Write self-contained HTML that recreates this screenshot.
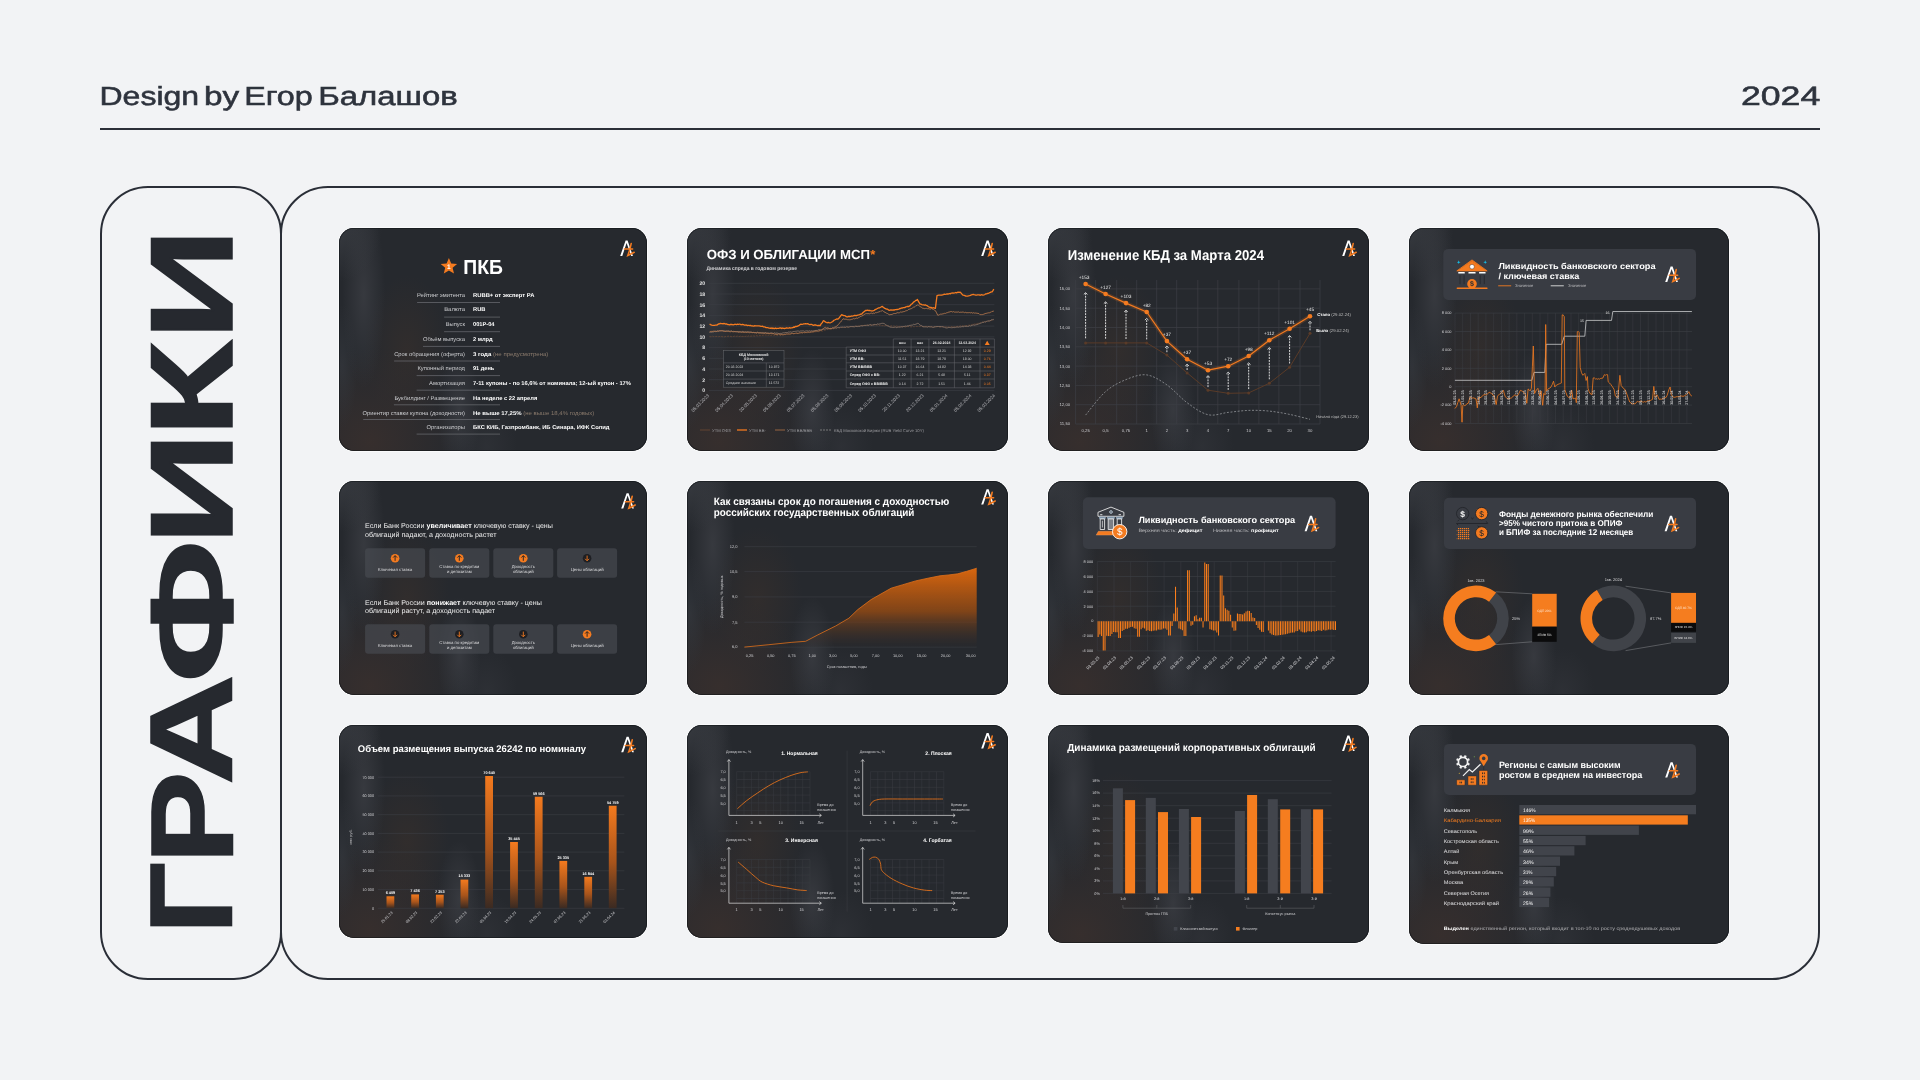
<!DOCTYPE html>
<html lang="ru">
<head>
<meta charset="utf-8">
<title>Design by Егор Балашов — Графики</title>
<style>
*{margin:0;padding:0;box-sizing:border-box}
html,body{width:1920px;height:1080px;overflow:hidden;background:#f2f3f5}
body{position:relative;font-family:"Liberation Sans",Arial,sans-serif;color:#2a2e37}
.abs{position:absolute}
#hdr{left:99.4px;top:83.3px;font-size:26.3px;line-height:1;font-weight:normal;-webkit-text-stroke:0.6px #2e333d;white-space:nowrap;transform-origin:0 0;transform:scaleX(1.2036);color:#2e333d}
#year{right:100px;top:82.6px;font-size:26.6px;line-height:1;font-weight:normal;-webkit-text-stroke:0.6px #2e333d;white-space:nowrap;transform-origin:100% 0;transform:scaleX(1.35);color:#2e333d}
#rule{left:100px;top:127.5px;width:1720px;height:2px;background:#2b2f38}
.box{position:absolute;border:2px solid #2a2e37;border-radius:48px;top:186px;height:794px}
#lbox{left:100px;width:182px}
#rbox{left:280px;width:1540px}
#vt{position:absolute;left:132.84px;top:927px;width:700px;height:120px;font-family:"Liberation Sans",sans-serif;font-weight:bold;-webkit-text-stroke:1.5px #26292f;font-size:117.60px;line-height:1;white-space:nowrap;color:#26292f;transform-origin:0 0;transform:rotate(-90deg)}
#vt span{position:absolute;top:0;transform-origin:0 0}
.card{position:absolute;border-radius:15px;overflow:hidden;background:#26292e;box-shadow:0 0 0 1px rgba(255,255,255,.6)}
.card:after{content:'';position:absolute;inset:0;border-radius:15px;box-shadow:inset 0 0 0 0.8px rgba(10,12,16,.55)}
.card .tex{position:absolute;inset:0;background:
 radial-gradient(ellipse 14% 24% at 0% 0%,rgba(64,67,73,.65),rgba(64,67,73,0)),
 radial-gradient(ellipse 7% 42% at 8% 30%,rgba(66,68,74,.6),rgba(66,68,74,0)),
 radial-gradient(ellipse 5% 28% at 1% 62%,rgba(54,58,64,.6),rgba(54,58,64,0)),
 radial-gradient(ellipse 7% 28% at 39% 82%,rgba(62,64,70,.7),rgba(62,64,70,0)),
 radial-gradient(ellipse 10% 20% at 48% 98%,rgba(56,58,64,.4),rgba(56,58,64,0)),
 radial-gradient(ellipse 30% 42% at 10% 96%,rgba(56,47,45,.9),rgba(56,47,45,0)),
 radial-gradient(ellipse 14% 34% at 22% 55%,rgba(60,49,43,.5),rgba(60,49,43,0)),
 #26292e}
#ov{position:absolute;left:0;top:0;font-family:"Liberation Sans",Arial,sans-serif;will-change:transform}
#hdr,#year,#vt{will-change:transform}
</style>
</head>
<body>
<svg id="hd" width="1920" height="60" viewBox="0 60 1920 60" text-rendering="geometricPrecision" style="position:absolute;left:0;top:60px;will-change:transform;font-family:'Liberation Sans',Arial,sans-serif" fill="#2e333d" stroke="#2e333d" stroke-width="0.55">
<text y="105.2" font-size="26.3"><tspan x="99.5" textLength="99.6" lengthAdjust="spacingAndGlyphs">Design</tspan> <tspan x="204.0" textLength="35.2" lengthAdjust="spacingAndGlyphs">by</tspan> <tspan x="244.2" textLength="68.6" lengthAdjust="spacingAndGlyphs">Егор</tspan> <tspan x="318.2" textLength="139.6" lengthAdjust="spacingAndGlyphs">Балашов</tspan></text>
<text y="105.2" font-size="26.6"><tspan x="1740.9" textLength="79.4" lengthAdjust="spacingAndGlyphs">2024</tspan></text>
</svg>
<div id="rule" class="abs"></div>
<div id="lbox" class="box"></div>
<div id="rbox" class="box"></div>
<div id="vt"><span style="left:-7.5px;transform:scaleX(1.080)">Г</span><span style="left:63.4px;transform:scaleX(1.181)">Р</span><span style="left:142.2px;transform:scaleX(1.305)">А</span><span style="left:243.6px;transform:scaleX(1.430)">Ф</span><span style="left:382.3px;transform:scaleX(1.335)">И</span><span style="left:490.4px;transform:scaleX(1.342)">К</span><span style="left:586.7px;transform:scaleX(1.322)">И</span></div>
<div class="card" style="left:339px;top:228px;width:308px;height:223px"><div class="tex"></div></div>
<div class="card" style="left:687px;top:228px;width:321px;height:223px"><div class="tex"></div></div>
<div class="card" style="left:1048px;top:228px;width:321px;height:223px"><div class="tex"></div></div>
<div class="card" style="left:1409px;top:228px;width:320px;height:223px"><div class="tex"></div></div>
<div class="card" style="left:339px;top:481px;width:308px;height:214px"><div class="tex"></div></div>
<div class="card" style="left:687px;top:481px;width:321px;height:214px"><div class="tex"></div></div>
<div class="card" style="left:1048px;top:481px;width:321px;height:214px"><div class="tex"></div></div>
<div class="card" style="left:1409px;top:481px;width:320px;height:214px"><div class="tex"></div></div>
<div class="card" style="left:339px;top:725px;width:308px;height:213px"><div class="tex"></div></div>
<div class="card" style="left:687px;top:725px;width:321px;height:213px"><div class="tex"></div></div>
<div class="card" style="left:1048px;top:725px;width:321px;height:218px"><div class="tex"></div></div>
<div class="card" style="left:1409px;top:725px;width:320px;height:219px"><div class="tex"></div></div>
<svg id="ov" text-rendering="geometricPrecision" width="1920" height="1080" viewBox="0 0 1920 1080">
<path d="M448.9 258.0 L451.2 263.4 L457.1 263.9 L452.6 267.8 L454.0 273.6 L448.9 270.5 L443.8 273.6 L445.2 267.8 L440.7 263.9 L446.6 263.4 Z" fill="#f47b20"/>
<text x="448.9" y="269.0" font-size="6.50" fill="#ffffff" font-weight="bold" text-anchor="middle">1</text>
<text x="463.3" y="274.2" font-size="20.30" fill="#ffffff" font-weight="bold" textLength="39.6" lengthAdjust="spacingAndGlyphs">ПКБ</text>
<text x="465.0" y="296.7" font-size="5.60" fill="#c9cacd" text-anchor="end" textLength="48.1" lengthAdjust="spacingAndGlyphs">Рейтинг эмитента</text>
<text x="473.0" y="296.7" font-size="5.60" textLength="61.4" lengthAdjust="spacingAndGlyphs"><tspan fill="#ffffff" font-weight="bold">RUBB+ от эксперт РА</tspan></text>
<line x1="417.1" y1="302.5" x2="500.0" y2="302.5" stroke="#6d6f74" stroke-width="0.7"/>
<text x="465.0" y="311.4" font-size="5.60" fill="#c9cacd" text-anchor="end" textLength="20.8" lengthAdjust="spacingAndGlyphs">Валюта</text>
<text x="473.0" y="311.4" font-size="5.60" textLength="12.4" lengthAdjust="spacingAndGlyphs"><tspan fill="#ffffff" font-weight="bold">RUB</tspan></text>
<line x1="444.1" y1="317.1" x2="500.0" y2="317.1" stroke="#6d6f74" stroke-width="0.7"/>
<text x="465.0" y="326.1" font-size="5.60" fill="#c9cacd" text-anchor="end" textLength="19.3" lengthAdjust="spacingAndGlyphs">Выпуск</text>
<text x="473.0" y="326.1" font-size="5.60" textLength="21.5" lengthAdjust="spacingAndGlyphs"><tspan fill="#ffffff" font-weight="bold">001P-04</tspan></text>
<line x1="444.1" y1="331.7" x2="500.0" y2="331.7" stroke="#6d6f74" stroke-width="0.7"/>
<text x="465.0" y="340.9" font-size="5.60" fill="#c9cacd" text-anchor="end" textLength="42.1" lengthAdjust="spacingAndGlyphs">Объём выпуска</text>
<text x="473.0" y="340.9" font-size="5.60" textLength="19.6" lengthAdjust="spacingAndGlyphs"><tspan fill="#ffffff" font-weight="bold">2 млрд</tspan></text>
<line x1="423.0" y1="346.4" x2="500.0" y2="346.4" stroke="#6d6f74" stroke-width="0.7"/>
<text x="465.0" y="355.6" font-size="5.60" fill="#c9cacd" text-anchor="end" textLength="70.8" lengthAdjust="spacingAndGlyphs">Срок обращения (оферта)</text>
<text x="473.0" y="355.6" font-size="5.60" textLength="75.4" lengthAdjust="spacingAndGlyphs"><tspan fill="#ffffff" font-weight="bold">3 года </tspan><tspan fill="#8a7a6c">(не предусмотрена)</tspan></text>
<line x1="394.1" y1="361.0" x2="500.0" y2="361.0" stroke="#6d6f74" stroke-width="0.7"/>
<text x="465.0" y="370.3" font-size="5.60" fill="#c9cacd" text-anchor="end" textLength="47.6" lengthAdjust="spacingAndGlyphs">Купонный период</text>
<text x="473.0" y="370.3" font-size="5.60" textLength="21.3" lengthAdjust="spacingAndGlyphs"><tspan fill="#ffffff" font-weight="bold">91 день</tspan></text>
<line x1="416.6" y1="375.6" x2="500.0" y2="375.6" stroke="#6d6f74" stroke-width="0.7"/>
<text x="465.0" y="385.0" font-size="5.60" fill="#c9cacd" text-anchor="end" textLength="36.0" lengthAdjust="spacingAndGlyphs">Амортизация</text>
<text x="473.0" y="385.0" font-size="5.60" textLength="158.0" lengthAdjust="spacingAndGlyphs"><tspan fill="#ffffff" font-weight="bold">7-11 купоны - по 16,6% от номинала; 12-ый купон - 17%</tspan></text>
<line x1="416.6" y1="390.2" x2="500.0" y2="390.2" stroke="#6d6f74" stroke-width="0.7"/>
<text x="465.0" y="399.7" font-size="5.60" fill="#c9cacd" text-anchor="end" textLength="70.6" lengthAdjust="spacingAndGlyphs">Букбилдинг / Размещение</text>
<text x="473.0" y="399.7" font-size="5.60" textLength="64.3" lengthAdjust="spacingAndGlyphs"><tspan fill="#ffffff" font-weight="bold">На неделе с 22 апреля</tspan></text>
<line x1="393.9" y1="404.8" x2="500.0" y2="404.8" stroke="#6d6f74" stroke-width="0.7"/>
<text x="465.0" y="414.5" font-size="5.60" fill="#c9cacd" text-anchor="end" textLength="102.4" lengthAdjust="spacingAndGlyphs">Ориентир ставки купона (доходности)</text>
<text x="473.0" y="414.5" font-size="5.60" textLength="121.3" lengthAdjust="spacingAndGlyphs"><tspan fill="#ffffff" font-weight="bold">Не выше 17,25% </tspan><tspan fill="#8a7a6c">(не выше 18,4% годовых)</tspan></text>
<line x1="363.2" y1="419.5" x2="500.0" y2="419.5" stroke="#6d6f74" stroke-width="0.7"/>
<text x="465.0" y="429.2" font-size="5.60" fill="#c9cacd" text-anchor="end" textLength="38.4" lengthAdjust="spacingAndGlyphs">Организаторы</text>
<text x="473.0" y="429.2" font-size="5.60" textLength="136.5" lengthAdjust="spacingAndGlyphs"><tspan fill="#ffffff" font-weight="bold">БКС КИБ, Газпромбанк, ИБ Синара, ИФК Солид</tspan></text>
<line x1="416.6" y1="434.1" x2="500.0" y2="434.1" stroke="#6d6f74" stroke-width="0.7"/>
<g transform="translate(620.0 240.3) scale(1.000)"><path d="M0.2 15.6 L5.6 0.2 L7.6 0.2 L12.9 15.6 L11.2 15.6 L6.6 2.6 L2.3 15.6Z" fill="#fff"/><path d="M11.2 3.2 C10.6 7 9.2 11.5 7.8 15.2 C9.8 14.4 12 13.2 14.2 12" fill="none" stroke="#f47b20" stroke-width="1.6" stroke-linecap="round"/><path d="M4.4 8.8 L12.6 8.8" stroke="#f47b20" stroke-width="1.5" stroke-linecap="round"/></g>
<text x="706.7" y="259.4" font-size="13.20" fill="#ffffff" font-weight="bold" textLength="163.3" lengthAdjust="spacingAndGlyphs">ОФЗ И ОБЛИГАЦИИ МСП</text>
<text x="870.3" y="259.0" font-size="13.20" fill="#f47b20" font-weight="bold">*</text>
<text x="706.5" y="269.8" font-size="5.20" fill="#cfcfd2" font-weight="bold" textLength="90.5" lengthAdjust="spacingAndGlyphs">Динамика спреда в годовом резерве</text>
<line x1="708.9" y1="283.3" x2="994.4" y2="283.3" stroke="#3b3e44" stroke-width="0.7"/>
<text x="705.2" y="285.1" font-size="5.20" fill="#e6e6e6" font-weight="bold" text-anchor="end">20</text>
<line x1="708.9" y1="294.0" x2="994.4" y2="294.0" stroke="#3b3e44" stroke-width="0.7"/>
<text x="705.2" y="295.8" font-size="5.20" fill="#e6e6e6" font-weight="bold" text-anchor="end">18</text>
<line x1="708.9" y1="304.7" x2="994.4" y2="304.7" stroke="#3b3e44" stroke-width="0.7"/>
<text x="705.2" y="306.5" font-size="5.20" fill="#e6e6e6" font-weight="bold" text-anchor="end">16</text>
<line x1="708.9" y1="315.4" x2="994.4" y2="315.4" stroke="#3b3e44" stroke-width="0.7"/>
<text x="705.2" y="317.2" font-size="5.20" fill="#e6e6e6" font-weight="bold" text-anchor="end">14</text>
<line x1="708.9" y1="326.1" x2="994.4" y2="326.1" stroke="#3b3e44" stroke-width="0.7"/>
<text x="705.2" y="327.9" font-size="5.20" fill="#e6e6e6" font-weight="bold" text-anchor="end">12</text>
<line x1="708.9" y1="336.9" x2="994.4" y2="336.9" stroke="#3b3e44" stroke-width="0.7"/>
<text x="705.2" y="338.7" font-size="5.20" fill="#e6e6e6" font-weight="bold" text-anchor="end">10</text>
<line x1="708.9" y1="347.6" x2="994.4" y2="347.6" stroke="#3b3e44" stroke-width="0.7"/>
<text x="705.2" y="349.4" font-size="5.20" fill="#e6e6e6" font-weight="bold" text-anchor="end">8</text>
<line x1="708.9" y1="358.3" x2="994.4" y2="358.3" stroke="#3b3e44" stroke-width="0.7"/>
<text x="705.2" y="360.1" font-size="5.20" fill="#e6e6e6" font-weight="bold" text-anchor="end">6</text>
<line x1="708.9" y1="369.0" x2="994.4" y2="369.0" stroke="#3b3e44" stroke-width="0.7"/>
<text x="705.2" y="370.8" font-size="5.20" fill="#e6e6e6" font-weight="bold" text-anchor="end">4</text>
<line x1="708.9" y1="379.7" x2="994.4" y2="379.7" stroke="#3b3e44" stroke-width="0.7"/>
<text x="705.2" y="381.5" font-size="5.20" fill="#e6e6e6" font-weight="bold" text-anchor="end">2</text>
<line x1="708.9" y1="390.4" x2="994.4" y2="390.4" stroke="#3b3e44" stroke-width="0.7"/>
<text x="705.2" y="392.2" font-size="5.20" fill="#e6e6e6" font-weight="bold" text-anchor="end">0</text>
<path d="M709.6 336.4 L710.4 336.7 L711.3 336.7 L712.1 336.2 L712.9 336.2 L713.7 336.7 L714.6 336.7 L715.4 336.6 L716.2 336.4 L717.1 336.6 L717.9 336.7 L718.7 336.7 L719.5 336.5 L720.4 336.7 L721.2 336.6 L722.0 336.6 L722.8 336.8 L723.6 336.9 L724.4 336.9 L725.2 336.6 L726.0 336.5 L726.8 336.4 L727.6 336.3 L728.4 336.2 L729.3 336.5 L730.1 336.4 L730.9 336.4 L731.7 336.7 L732.5 336.5 L733.3 336.5 L734.1 336.2 L734.9 336.1 L735.7 336.4 L736.5 336.3 L737.3 336.1 L738.1 336.3 L739.0 336.6 L739.8 336.4 L740.6 336.1 L741.4 336.5 L742.2 336.4 L743.0 336.4 L743.8 336.5 L744.6 336.4 L745.4 336.4 L746.2 336.1 L747.0 336.4 L747.8 336.4 L748.7 335.9 L749.5 336.2 L750.3 336.2 L751.1 336.1 L751.9 336.0 L752.7 336.0 L753.5 335.9 L754.3 336.1 L755.1 335.8 L755.9 336.0 L756.7 335.6 L757.6 335.9 L758.4 335.9 L759.2 335.6 L760.0 335.6 L760.8 335.7 L761.6 335.6 L762.4 335.4 L763.2 335.2 L764.0 335.2 L764.8 335.4 L765.6 335.0 L766.4 335.1 L767.3 335.4 L768.1 335.0 L768.9 335.4 L769.7 335.0 L770.5 335.4 L771.3 335.3 L772.1 335.1 L772.9 335.2 L773.7 335.2 L774.5 335.2 L775.3 335.0 L776.1 335.0 L777.0 335.1 L777.8 335.4 L778.6 335.2 L779.4 334.9 L780.2 335.3 L781.0 335.3 L781.8 335.1 L782.6 335.3 L783.4 334.8 L784.2 335.0 L785.0 334.5 L785.8 334.7 L786.7 334.4 L787.5 334.3 L788.3 334.6 L789.1 334.0 L789.9 334.2 L790.7 334.3 L791.5 333.8 L792.3 333.7 L793.1 334.0 L793.9 333.6 L794.7 333.7 L795.5 333.2 L796.4 333.3 L797.2 333.3 L798.0 333.1 L798.8 333.3 L799.6 332.9 L800.4 333.4 L801.2 332.8 L802.0 333.2 L802.8 332.7 L803.6 332.8 L804.4 333.1 L805.3 332.7 L806.1 332.7 L806.9 332.9 L807.7 332.7 L808.5 332.5 L809.3 333.0 L810.1 332.4 L810.9 332.3 L811.7 332.5 L812.5 332.5 L813.4 332.5 L814.2 332.4 L815.0 331.9 L815.9 331.9 L816.7 331.6 L817.6 331.7 L818.4 331.7 L819.2 331.6 L820.1 331.5 L820.9 331.3 L821.7 331.0 L822.6 331.0 L823.5 330.7 L824.4 330.3 L825.3 330.0 L826.1 330.0 L827.0 329.6 L827.9 329.5 L828.7 329.1 L829.5 329.2 L830.3 329.4 L831.2 328.8 L832.0 329.0 L832.8 328.8 L833.6 328.8 L834.4 328.4 L835.3 328.8 L836.1 328.3 L836.9 328.4 L837.7 328.2 L838.5 327.8 L839.4 328.1 L840.2 327.9 L841.0 327.6 L841.8 327.5 L842.6 327.4 L843.4 327.4 L844.2 327.2 L845.0 327.5 L845.8 327.3 L846.6 327.5 L847.4 327.4 L848.2 327.4 L849.0 326.8 L849.8 326.8 L850.6 326.6 L851.4 326.8 L852.2 326.7 L853.0 326.7 L853.8 326.6 L854.6 326.2 L855.4 326.2 L856.2 326.2 L857.0 325.8 L857.8 325.7 L858.6 325.9 L859.4 325.8 L860.2 325.6 L861.0 325.9 L861.8 325.5 L862.7 325.4 L863.5 325.4 L864.3 325.4 L865.1 325.3 L865.9 325.4 L866.7 325.3 L867.5 325.2 L868.3 325.3 L869.1 325.0 L869.9 325.4 L870.7 325.4 L871.5 325.2 L872.4 324.9 L873.2 324.9 L874.0 324.9 L874.8 325.0 L875.6 324.7 L876.4 325.0 L877.2 325.1 L878.0 324.9 L878.8 324.9 L879.6 325.4 L880.4 325.2 L881.2 325.4 L882.1 325.7 L882.9 325.5 L883.7 325.4 L884.5 325.9 L885.3 325.6 L886.1 325.4 L886.9 325.9 L887.7 325.6 L888.5 325.8 L889.3 325.9 L890.1 326.2 L890.9 326.1 L891.8 325.8 L892.6 326.1 L893.4 326.1 L894.2 326.2 L895.0 326.1 L895.8 326.4 L896.6 326.1 L897.4 326.3 L898.2 326.4 L899.0 326.8 L899.8 326.3 L900.7 326.8 L901.5 326.5 L902.3 326.7 L903.1 326.7 L903.9 326.8 L904.7 326.8 L905.5 327.0 L906.3 326.7 L907.1 326.5 L907.9 326.5 L908.7 326.5 L909.5 326.9 L910.4 326.8 L911.2 326.9 L912.0 326.7 L912.8 326.3 L913.6 326.7 L914.4 326.7 L915.2 326.7 L916.0 326.5 L916.8 326.4 L917.6 326.4 L918.4 326.6 L919.2 326.3 L920.1 326.4 L920.9 326.4 L921.7 326.4 L922.5 326.7 L923.3 326.7 L924.1 326.8 L924.9 326.7 L925.7 326.4 L926.5 326.4 L927.3 326.6 L928.1 326.5 L928.9 326.6 L929.8 326.8 L930.6 327.0 L931.4 326.8 L932.2 326.9 L933.0 326.5 L933.8 326.7 L934.6 327.1 L935.4 326.8 L936.2 326.6 L937.0 326.8 L937.8 326.6 L938.6 326.6 L939.5 327.1 L940.3 327.1 L941.1 326.9 L941.9 326.6 L942.7 326.7 L943.5 326.7 L944.3 327.0 L945.1 327.0 L945.9 326.8 L946.7 326.9 L947.5 326.6 L948.4 326.9 L949.2 327.1 L950.0 327.0 L950.8 326.8 L951.6 326.5 L952.4 326.7 L953.2 326.8 L954.0 326.4 L954.8 326.8 L955.6 326.4 L956.4 326.5 L957.2 326.3 L958.1 326.6 L958.9 326.4 L959.7 326.2 L960.5 325.9 L961.3 326.0 L962.1 325.7 L962.9 325.9 L963.7 326.0 L964.5 325.6 L965.3 325.7 L966.1 325.6 L966.9 325.4 L967.8 325.2 L968.6 325.3 L969.4 325.2 L970.2 324.9 L971.0 324.6 L971.8 324.8 L972.6 324.2 L973.4 324.3 L974.2 324.1 L975.0 324.0 L975.8 323.9 L976.6 323.4 L977.5 323.4 L978.3 323.1 L979.1 323.1 L979.9 323.2 L980.7 322.8 L981.5 322.5 L982.3 322.1 L983.1 322.2 L984.0 322.1 L984.8 322.0 L985.6 321.7 L986.4 321.6 L987.2 321.0 L988.1 321.3 L988.9 321.0 L989.7 320.8 L990.5 320.8 L991.3 320.6 L992.1 319.9 L993.0 320.2 L993.8 319.8" fill="none" stroke="#6e4a33" stroke-width="0.8" stroke-linejoin="round" stroke-dasharray="2 1"/>
<path d="M709.6 332.5 L710.4 332.2 L711.3 332.3 L712.1 332.0 L712.9 332.0 L713.7 331.9 L714.6 331.3 L715.4 331.1 L716.2 331.5 L717.1 331.0 L717.9 330.8 L718.7 331.2 L719.5 330.7 L720.4 330.5 L721.2 330.8 L722.0 330.6 L722.8 330.8 L723.6 330.5 L724.4 330.9 L725.2 331.1 L726.0 330.9 L726.8 331.1 L727.6 331.1 L728.4 330.7 L729.3 331.2 L730.1 331.2 L730.9 331.0 L731.7 330.9 L732.5 331.5 L733.3 331.3 L734.1 331.5 L734.9 331.7 L735.7 331.5 L736.5 331.6 L737.3 331.8 L738.1 331.5 L739.0 331.8 L739.8 331.6 L740.6 332.0 L741.4 331.9 L742.2 331.4 L743.0 331.5 L743.8 331.6 L744.6 332.1 L745.4 331.8 L746.2 332.0 L747.0 331.8 L747.8 331.9 L748.7 331.9 L749.5 331.9 L750.3 332.1 L751.1 332.1 L751.9 332.2 L752.7 332.5 L753.5 332.3 L754.3 332.6 L755.1 332.6 L755.9 332.7 L756.7 332.5 L757.6 332.2 L758.4 332.8 L759.2 332.9 L760.0 332.9 L760.8 332.7 L761.6 332.9 L762.4 332.5 L763.2 333.0 L764.0 332.9 L764.8 332.7 L765.6 332.6 L766.4 333.0 L767.3 333.3 L768.1 333.4 L768.9 332.8 L769.7 333.3 L770.5 333.0 L771.3 332.8 L772.1 333.0 L772.9 333.3 L773.7 333.4 L774.5 332.8 L775.3 333.3 L776.1 332.9 L777.0 333.4 L777.8 333.1 L778.6 333.5 L779.4 333.6 L780.2 333.3 L781.0 333.6 L781.8 333.3 L782.6 333.0 L783.4 332.8 L784.2 333.0 L785.0 332.5 L785.8 332.5 L786.7 332.5 L787.5 332.5 L788.3 332.1 L789.1 331.9 L789.9 332.3 L790.7 331.8 L791.5 332.2 L792.3 332.0 L793.1 331.5 L793.9 331.5 L794.7 331.4 L795.5 331.3 L796.4 331.2 L797.2 331.0 L798.0 331.0 L798.8 331.1 L799.6 331.3 L800.4 331.0 L801.2 330.9 L802.0 331.1 L802.8 330.8 L803.6 330.9 L804.4 331.3 L805.3 331.0 L806.1 331.0 L806.9 330.7 L807.7 330.9 L808.5 331.1 L809.3 330.7 L810.1 331.1 L810.9 331.1 L811.7 330.7 L812.5 331.0 L813.4 330.9 L814.2 330.7 L815.0 330.7 L815.9 330.3 L816.7 330.4 L817.6 330.3 L818.4 329.7 L819.2 329.6 L820.1 329.9 L820.9 329.9 L821.7 329.5 L822.6 329.2 L823.5 329.2 L824.4 329.2 L825.3 328.9 L826.1 328.8 L827.0 328.7 L827.9 328.7 L828.7 328.5 L829.5 328.6 L830.3 328.3 L831.1 328.3 L831.9 328.5 L832.7 327.9 L833.5 328.2 L834.4 328.2 L835.2 327.8 L836.0 327.7 L836.8 328.0 L837.6 327.5 L838.4 327.4 L839.2 327.5 L840.0 327.6 L840.8 327.1 L841.6 327.2 L842.4 327.1 L843.2 327.2 L844.1 327.3 L844.9 327.0 L845.7 327.3 L846.5 326.8 L847.3 326.8 L848.1 327.0 L848.9 327.1 L849.7 326.8 L850.5 326.6 L851.3 326.5 L852.1 326.7 L853.0 326.5 L853.8 326.8 L854.6 326.8 L855.4 326.3 L856.2 326.4 L857.0 326.7 L857.8 326.5 L858.6 326.4 L859.5 326.5 L860.3 326.0 L861.2 325.8 L862.0 325.8 L862.9 326.0 L863.7 325.5 L864.6 325.4 L865.4 325.4 L866.3 325.3 L867.1 325.2 L868.0 325.1 L868.9 325.4 L869.7 324.7 L870.6 324.5 L871.4 325.1 L872.3 325.0 L873.1 325.0 L874.0 324.5 L874.8 324.4 L875.6 324.6 L876.5 324.5 L877.3 323.9 L878.2 324.2 L879.0 324.1 L879.8 323.9 L880.7 323.7 L881.5 323.4 L882.3 323.3 L883.2 323.3 L884.1 323.6 L884.9 324.0 L885.8 324.9 L886.7 325.2 L887.6 326.1 L888.5 326.0 L889.3 326.8 L890.2 327.2 L891.0 327.1 L891.9 327.3 L892.7 327.4 L893.6 327.5 L894.5 327.3 L895.3 327.0 L896.2 327.6 L897.0 327.5 L897.9 327.1 L898.7 327.1 L899.6 327.2 L900.4 327.0 L901.3 326.8 L902.1 327.1 L903.0 326.7 L903.8 326.4 L904.7 326.4 L905.6 326.1 L906.4 326.3 L907.3 325.9 L908.2 326.0 L909.1 325.5 L910.0 325.3 L910.8 325.3 L911.7 325.1 L912.6 325.0 L913.4 324.3 L914.3 324.5 L915.2 324.4 L916.0 324.0 L916.9 323.8 L917.7 323.3 L918.6 323.6 L919.5 324.6 L920.4 325.3 L921.3 325.4 L922.2 326.1 L923.1 326.8 L924.0 326.7 L924.8 326.9 L925.6 326.9 L926.5 326.9 L927.3 327.2 L928.2 326.7 L929.0 326.7 L929.8 326.8 L930.7 326.8 L931.5 326.8 L932.3 327.2 L933.2 327.4 L934.0 327.2 L934.9 326.6 L935.8 326.8 L936.6 326.6 L937.5 326.5 L938.3 326.5 L939.2 326.6 L940.0 326.4 L940.9 326.7 L941.8 326.7 L942.7 326.8 L943.5 327.1 L944.4 327.2 L945.3 327.7 L946.2 327.9 L947.0 328.0 L947.9 327.7 L948.7 327.5 L949.6 327.5 L950.4 327.6 L951.3 327.7 L952.1 327.8 L953.0 327.4 L953.8 327.5 L954.7 327.6 L955.5 327.4 L956.3 327.2 L957.1 327.1 L957.9 327.1 L958.8 327.2 L959.6 326.9 L960.4 327.0 L961.2 326.8 L962.0 326.6 L962.9 326.7 L963.7 326.7 L964.5 326.2 L965.3 326.4 L966.1 326.4 L967.0 326.2 L967.8 326.4 L968.7 326.3 L969.5 325.7 L970.3 326.0 L971.2 325.8 L972.0 325.2 L972.8 325.2 L973.7 324.9 L974.5 325.2 L975.4 324.9 L976.2 324.7 L977.1 324.6 L978.0 324.2 L978.9 323.8 L979.7 323.6 L980.6 323.2 L981.5 322.9 L982.4 322.4 L983.2 322.5 L984.1 321.9 L984.9 321.8 L985.8 322.0 L986.6 321.3 L987.5 321.1 L988.3 320.9 L989.2 321.0 L990.1 320.9 L991.0 320.0 L991.9 319.6 L992.9 319.8 L993.8 319.2" fill="none" stroke="#9a8070" stroke-width="0.75" stroke-linejoin="round"/>
<path d="M709.6 331.8 L710.4 331.5 L711.3 331.4 L712.1 331.5 L712.9 331.3 L713.7 331.2 L714.6 331.3 L715.4 331.6 L716.2 331.5 L717.1 331.4 L717.9 331.0 L718.7 331.1 L719.5 330.9 L720.4 331.0 L721.2 330.8 L722.0 330.8 L722.8 330.9 L723.6 331.5 L724.4 331.4 L725.2 331.5 L726.0 331.5 L726.8 331.1 L727.6 331.2 L728.4 331.5 L729.3 331.6 L730.1 331.7 L730.9 331.8 L731.7 331.3 L732.5 331.7 L733.3 331.8 L734.1 331.7 L734.9 331.5 L735.7 331.8 L736.5 331.8 L737.3 331.6 L738.1 332.2 L739.0 332.2 L739.8 332.0 L740.6 331.9 L741.4 332.3 L742.2 332.1 L743.0 332.4 L743.8 332.4 L744.6 332.2 L745.4 332.2 L746.2 332.4 L747.0 332.3 L747.8 332.1 L748.7 332.3 L749.5 332.7 L750.3 332.2 L751.1 332.5 L751.9 332.3 L752.7 332.7 L753.5 332.5 L754.3 332.7 L755.1 332.7 L755.9 332.7 L756.7 333.2 L757.6 332.6 L758.4 332.8 L759.2 332.7 L760.0 333.1 L760.8 332.9 L761.6 333.0 L762.4 333.3 L763.2 333.0 L764.0 333.2 L764.8 333.5 L765.6 333.0 L766.4 333.3 L767.3 333.1 L768.1 333.2 L768.9 333.7 L769.7 333.6 L770.5 333.4 L771.3 333.6 L772.1 333.5 L772.9 333.8 L773.7 333.6 L774.5 334.1 L775.3 334.3 L776.1 334.4 L777.0 334.3 L777.8 334.5 L778.6 333.9 L779.4 334.2 L780.2 334.7 L781.0 334.7 L781.8 334.5 L782.6 334.4 L783.4 334.7 L784.2 334.4 L785.0 334.5 L785.8 334.1 L786.7 333.9 L787.5 334.0 L788.3 333.8 L789.1 333.9 L789.9 334.2 L790.7 333.7 L791.5 333.4 L792.3 333.4 L793.1 333.4 L793.9 333.8 L794.7 333.4 L795.5 333.3 L796.4 333.1 L797.2 333.3 L798.0 333.6 L798.8 333.1 L799.6 332.9 L800.4 332.7 L801.2 332.6 L802.0 332.6 L802.8 332.9 L803.6 332.4 L804.4 332.3 L805.3 332.5 L806.1 332.2 L806.9 332.7 L807.7 332.0 L808.5 332.2 L809.3 332.3 L810.1 331.9 L810.9 332.3 L811.7 331.8 L812.5 331.8 L813.4 331.4 L814.2 331.4 L815.0 331.0 L815.9 331.1 L816.7 330.9 L817.6 331.2 L818.4 331.0 L819.2 330.6 L820.1 330.2 L820.9 330.2 L821.7 330.2 L822.8 329.1 L823.8 328.2 L824.8 327.5 L825.7 327.4 L826.6 328.1 L827.4 327.7 L828.3 327.9 L829.2 328.6 L830.1 328.6 L831.0 328.7 L831.8 328.6 L832.7 327.8 L833.6 327.8 L834.5 327.2 L835.3 326.9 L836.2 326.5 L837.1 325.9 L838.1 324.8 L839.2 323.4 L840.2 322.5 L841.2 321.1 L842.2 320.2 L843.2 318.7 L844.1 319.1 L845.0 319.3 L845.9 319.1 L846.8 319.4 L847.6 319.7 L848.5 319.7 L849.4 319.8 L850.2 319.8 L851.1 319.4 L851.9 319.3 L852.7 319.1 L853.6 318.6 L854.4 318.9 L855.3 318.7 L856.1 317.9 L856.9 318.4 L857.8 318.2 L858.6 317.6 L859.5 317.3 L860.3 316.4 L861.2 316.6 L862.0 315.6 L862.9 315.7 L863.7 315.1 L864.6 314.2 L865.4 313.8 L866.3 313.6 L867.1 313.7 L868.0 313.6 L868.9 313.7 L869.7 313.8 L870.6 313.3 L871.4 313.1 L872.3 313.7 L873.1 313.0 L874.0 313.3 L874.8 313.3 L875.7 312.5 L876.5 312.7 L877.4 312.4 L878.2 312.2 L879.0 311.7 L879.9 311.7 L880.7 310.9 L881.6 311.0 L882.4 310.6 L883.3 311.0 L884.1 311.9 L885.0 312.4 L885.9 312.7 L886.7 313.3 L887.6 313.5 L888.5 314.0 L889.3 314.9 L890.2 314.7 L891.0 314.4 L891.9 314.5 L892.7 314.1 L893.6 313.6 L894.5 313.5 L895.3 313.6 L896.2 313.2 L897.0 313.0 L897.9 312.5 L898.7 312.9 L899.6 312.7 L900.4 312.0 L901.3 312.2 L902.1 311.9 L903.0 312.0 L903.8 311.5 L904.7 311.5 L905.6 310.9 L906.4 310.7 L907.3 310.6 L908.2 309.6 L909.1 309.2 L910.0 309.2 L910.8 308.7 L911.7 308.5 L912.6 307.8 L913.4 307.2 L914.3 307.1 L915.2 306.5 L916.0 305.5 L916.9 305.6 L917.7 304.9 L918.6 305.3 L919.5 305.9 L920.4 306.9 L921.3 307.2 L922.2 308.0 L923.1 308.4 L924.0 308.2 L924.8 308.8 L925.6 308.4 L926.5 308.4 L927.3 308.7 L928.2 308.6 L929.0 308.8 L929.8 309.1 L930.7 309.1 L931.5 308.6 L932.3 309.0 L933.4 309.4 L934.4 310.1 L935.4 310.6 L936.6 312.9 L937.7 315.2 L938.6 315.1 L939.4 314.7 L940.3 314.2 L941.2 314.1 L942.0 314.3 L942.9 313.7 L943.8 313.7 L944.6 313.3 L945.5 313.4 L946.4 312.9 L947.3 312.7 L948.1 312.4 L949.0 311.9 L949.9 312.0 L950.8 311.5 L951.7 311.6 L952.5 312.0 L953.4 311.6 L954.3 312.1 L955.2 312.1 L956.0 312.1 L956.9 312.1 L957.8 312.1 L958.6 311.9 L959.4 312.4 L960.3 312.2 L961.1 312.4 L961.9 312.1 L962.8 312.1 L963.6 312.2 L964.5 312.7 L965.3 312.3 L966.1 312.6 L967.0 312.9 L967.8 312.6 L968.7 312.7 L969.5 312.6 L970.3 312.9 L971.2 312.5 L972.0 312.8 L972.8 313.2 L973.7 312.7 L974.5 313.1 L975.4 313.0 L976.2 313.1 L977.1 313.3 L978.0 313.3 L978.9 313.6 L979.7 314.4 L980.6 314.6 L981.5 314.6 L982.4 314.6 L983.3 314.3 L984.1 314.2 L985.0 313.4 L985.9 313.5 L986.8 313.2 L987.6 313.0 L988.5 312.8 L989.4 312.8 L990.3 312.3 L991.2 312.2 L992.0 311.3 L992.9 311.4 L993.8 311.0" fill="none" stroke="#b87a4e" stroke-width="0.85" stroke-linejoin="round"/>
<path d="M709.6 324.1 L710.6 324.6 L711.7 325.1 L712.7 325.3 L713.6 325.4 L714.5 325.4 L715.4 325.2 L716.4 325.2 L717.3 324.9 L718.3 324.0 L719.3 323.8 L720.4 323.3 L721.3 323.7 L722.2 323.6 L723.1 323.9 L724.0 323.4 L725.0 323.8 L725.9 324.0 L726.8 324.0 L727.7 324.5 L728.7 324.7 L729.6 324.9 L730.5 324.4 L731.3 324.5 L732.2 324.5 L733.1 324.9 L734.0 324.7 L734.8 324.2 L735.7 324.4 L736.6 324.6 L737.5 324.2 L738.4 324.5 L739.2 324.2 L740.1 324.2 L741.0 324.8 L741.9 324.5 L742.7 324.5 L743.6 324.6 L744.5 325.2 L745.4 325.2 L746.3 324.9 L747.1 325.5 L748.0 325.3 L748.9 325.4 L749.7 325.6 L750.6 325.3 L751.4 325.9 L752.3 325.8 L753.1 326.0 L754.0 326.1 L754.8 325.7 L755.7 325.9 L756.6 325.9 L757.4 325.8 L758.3 325.9 L759.2 325.9 L760.1 326.1 L761.0 326.4 L761.8 326.4 L762.7 326.2 L763.5 326.9 L764.4 326.9 L765.2 327.1 L766.1 327.6 L767.0 327.6 L767.8 327.7 L768.7 328.0 L769.5 328.2 L770.4 328.4 L771.2 327.9 L772.0 328.6 L772.9 328.0 L773.7 328.5 L774.5 328.6 L775.4 328.0 L776.2 328.5 L777.1 328.3 L777.9 328.4 L778.7 328.4 L779.6 328.0 L780.4 328.0 L781.2 328.1 L782.0 328.6 L782.8 328.0 L783.6 328.4 L784.5 328.5 L785.3 328.4 L786.1 328.0 L786.9 328.0 L787.7 328.1 L788.6 328.2 L789.4 327.7 L790.2 328.1 L791.0 327.9 L791.9 327.9 L792.8 327.7 L793.7 326.9 L794.5 327.4 L795.4 326.5 L796.3 326.5 L797.2 326.4 L798.2 325.8 L799.2 325.3 L800.2 324.4 L801.1 324.2 L802.0 324.5 L802.9 324.2 L803.7 323.9 L804.6 323.8 L805.5 323.6 L806.4 323.8 L807.3 323.6 L808.1 323.8 L809.0 324.4 L809.9 324.7 L810.8 324.3 L811.6 324.4 L812.5 324.9 L813.4 325.3 L814.2 325.0 L815.1 325.0 L815.9 325.0 L816.8 325.3 L817.6 325.6 L818.5 325.4 L819.4 325.5 L820.2 325.6 L821.2 323.7 L822.3 322.6 L823.3 320.7 L824.3 321.0 L825.3 321.9 L826.4 322.5 L827.3 322.8 L828.2 322.3 L829.1 322.7 L830.0 322.9 L831.0 322.5 L831.9 322.0 L832.8 321.5 L833.7 320.4 L834.6 320.0 L835.6 319.5 L836.6 319.0 L837.6 319.2 L838.6 318.7 L839.7 317.2 L840.7 315.9 L841.7 314.6 L842.7 315.3 L843.8 315.5 L844.8 315.6 L846.3 316.7 L847.2 317.0 L848.1 316.5 L849.0 316.4 L849.8 316.5 L850.7 316.3 L851.6 316.0 L852.5 316.1 L853.3 315.9 L854.2 315.5 L855.1 315.5 L856.0 315.7 L856.9 315.5 L857.7 315.1 L858.6 314.9 L859.6 314.6 L860.7 314.2 L861.7 314.1 L862.6 312.9 L863.6 312.0 L864.6 311.4 L865.5 310.3 L866.5 310.5 L867.4 310.2 L868.4 310.5 L869.4 310.3 L870.4 310.7 L871.4 310.9 L872.4 311.0 L873.4 310.7 L874.3 310.3 L875.2 309.5 L876.1 309.3 L877.0 308.7 L877.9 308.2 L878.8 307.9 L879.7 307.8 L880.6 307.3 L881.5 306.7 L882.4 306.4 L883.4 307.5 L884.5 308.1 L885.5 308.7 L886.5 309.2 L887.4 309.1 L888.4 309.9 L889.3 310.3 L890.2 310.0 L891.0 310.2 L891.9 310.0 L892.7 310.1 L893.6 309.9 L894.5 310.0 L895.3 309.6 L896.2 309.7 L897.0 309.5 L897.9 309.3 L898.9 309.1 L899.8 308.5 L900.7 308.5 L901.6 308.0 L902.5 308.0 L903.3 307.7 L904.2 307.7 L905.0 307.5 L905.9 306.9 L906.7 306.7 L907.6 306.3 L908.4 306.6 L909.3 306.1 L910.2 305.6 L911.1 304.4 L912.1 303.7 L913.0 302.8 L913.9 301.8 L914.8 301.4 L915.7 300.4 L916.6 300.3 L917.4 299.5 L918.3 301.1 L919.2 302.7 L920.1 304.1 L920.9 304.2 L921.8 304.6 L922.7 304.8 L923.6 304.9 L924.4 305.1 L925.3 304.8 L926.2 305.3 L927.2 305.7 L928.2 306.5 L929.3 307.2 L930.1 307.5 L931.0 307.3 L931.9 307.8 L932.8 308.0 L933.7 307.7 L934.5 308.2 L935.4 308.4 L937.0 295.7 L937.9 295.4 L938.8 295.2 L939.7 295.1 L940.6 295.2 L941.6 295.2 L942.5 294.8 L943.4 294.6 L944.3 294.2 L945.2 294.3 L946.2 294.1 L947.0 293.9 L947.9 294.0 L948.7 293.8 L949.6 293.5 L950.4 293.8 L951.3 293.1 L952.1 293.2 L953.0 293.0 L953.8 293.1 L954.7 292.9 L955.6 292.5 L956.5 292.9 L957.4 292.4 L958.2 292.1 L959.1 292.3 L960.0 292.1 L961.0 292.9 L962.0 294.2 L963.1 295.2 L964.0 295.3 L964.9 295.6 L965.8 296.1 L966.8 296.2 L967.7 296.1 L968.6 295.8 L969.5 295.7 L970.4 295.3 L971.4 294.8 L972.3 294.6 L973.2 294.4 L974.0 294.7 L974.9 294.8 L975.8 295.1 L976.7 295.1 L977.5 294.9 L978.4 294.9 L979.3 294.9 L980.3 295.3 L981.2 294.7 L982.1 294.9 L983.0 295.2 L984.0 294.9 L984.9 294.5 L985.8 293.8 L986.7 293.8 L987.6 293.4 L988.6 293.3 L989.5 292.7 L990.4 292.4 L991.3 291.9 L992.3 291.8 L993.8 289.1" fill="none" stroke="#f47b20" stroke-width="1.3" stroke-linejoin="round"/>
<rect x="723.3" y="350.7" width="60.7" height="36.5" rx="0" fill="#26292e" stroke="#6a6c70" stroke-width="0.5"/>
<line x1="723.3" y1="362.9" x2="784.0" y2="362.9" stroke="#6a6c70" stroke-width="0.5"/>
<line x1="723.3" y1="371.0" x2="784.0" y2="371.0" stroke="#6a6c70" stroke-width="0.5"/>
<line x1="723.3" y1="379.1" x2="784.0" y2="379.1" stroke="#6a6c70" stroke-width="0.5"/>
<line x1="766.3" y1="362.9" x2="766.3" y2="387.2" stroke="#6a6c70" stroke-width="0.5"/>
<text x="753.6" y="355.9" font-size="3.60" fill="#e0e0e0" font-weight="bold" text-anchor="middle">КБД Московской</text>
<text x="753.6" y="360.3" font-size="3.60" fill="#e0e0e0" font-weight="bold" text-anchor="middle">(10-летняя)</text>
<text x="725.8" y="368.2" font-size="3.50" fill="#cfcfcf">20.03.2023</text>
<text x="768.8" y="368.2" font-size="3.50" fill="#cfcfcf">10.872</text>
<text x="725.8" y="376.3" font-size="3.50" fill="#cfcfcf">20.03.2024</text>
<text x="768.8" y="376.3" font-size="3.50" fill="#cfcfcf">13.171</text>
<text x="725.8" y="384.4" font-size="3.50" fill="#cfcfcf">Среднее значение</text>
<text x="768.8" y="384.4" font-size="3.50" fill="#cfcfcf">11.572</text>
<rect x="846.2" y="347.1" width="148.2" height="40.7" rx="0" fill="#26292e"/>
<rect x="893.3" y="338.9" width="101.1" height="8.2" rx="0" fill="#26292e"/>
<line x1="893.3" y1="338.9" x2="893.3" y2="387.8" stroke="#6a6c70" stroke-width="0.5"/>
<line x1="911.1" y1="338.9" x2="911.1" y2="387.8" stroke="#6a6c70" stroke-width="0.5"/>
<line x1="928.9" y1="338.9" x2="928.9" y2="387.8" stroke="#6a6c70" stroke-width="0.5"/>
<line x1="954.4" y1="338.9" x2="954.4" y2="387.8" stroke="#6a6c70" stroke-width="0.5"/>
<line x1="980.0" y1="338.9" x2="980.0" y2="387.8" stroke="#6a6c70" stroke-width="0.5"/>
<line x1="994.4" y1="338.9" x2="994.4" y2="387.8" stroke="#6a6c70" stroke-width="0.5"/>
<line x1="846.2" y1="347.1" x2="846.2" y2="387.8" stroke="#6a6c70" stroke-width="0.5"/>
<line x1="893.3" y1="338.9" x2="994.4" y2="338.9" stroke="#6a6c70" stroke-width="0.5"/>
<line x1="846.2" y1="347.1" x2="994.4" y2="347.1" stroke="#6a6c70" stroke-width="0.5"/>
<line x1="846.2" y1="355.0" x2="994.4" y2="355.0" stroke="#6a6c70" stroke-width="0.5"/>
<line x1="846.2" y1="362.8" x2="994.4" y2="362.8" stroke="#6a6c70" stroke-width="0.5"/>
<line x1="846.2" y1="371.0" x2="994.4" y2="371.0" stroke="#6a6c70" stroke-width="0.5"/>
<line x1="846.2" y1="379.0" x2="994.4" y2="379.0" stroke="#6a6c70" stroke-width="0.5"/>
<line x1="846.2" y1="387.8" x2="994.4" y2="387.8" stroke="#6a6c70" stroke-width="0.5"/>
<text x="902.2" y="344.2" font-size="3.50" fill="#e0e0e0" font-weight="bold" text-anchor="middle">мин</text>
<text x="920.0" y="344.2" font-size="3.50" fill="#e0e0e0" font-weight="bold" text-anchor="middle">мах</text>
<text x="941.6" y="344.2" font-size="3.50" fill="#e0e0e0" font-weight="bold" text-anchor="middle">26.02.2024</text>
<text x="967.2" y="344.2" font-size="3.50" fill="#e0e0e0" font-weight="bold" text-anchor="middle">12.03.2024</text>
<path d="M984.7 345 L987.2 340.8 L989.7 345Z" fill="#f47b20"/>
<text x="849.7" y="352.4" font-size="3.60" fill="#ececec" font-weight="bold">УТМ ОФЗ</text>
<text x="902.2" y="352.4" font-size="3.50" fill="#d0d0d0" text-anchor="middle">10.00</text>
<text x="920.0" y="352.4" font-size="3.50" fill="#d0d0d0" text-anchor="middle">13.21</text>
<text x="941.6" y="352.4" font-size="3.50" fill="#d0d0d0" text-anchor="middle">13.21</text>
<text x="967.2" y="352.4" font-size="3.50" fill="#d0d0d0" text-anchor="middle">12.92</text>
<text x="987.2" y="352.4" font-size="3.50" fill="#f47b20" text-anchor="middle">0.29</text>
<text x="849.7" y="360.2" font-size="3.60" fill="#ececec" font-weight="bold">УТМ ВВ-</text>
<text x="902.2" y="360.2" font-size="3.50" fill="#d0d0d0" text-anchor="middle">11.51</text>
<text x="920.0" y="360.2" font-size="3.50" fill="#d0d0d0" text-anchor="middle">18.79</text>
<text x="941.6" y="360.2" font-size="3.50" fill="#d0d0d0" text-anchor="middle">18.79</text>
<text x="967.2" y="360.2" font-size="3.50" fill="#d0d0d0" text-anchor="middle">18.00</text>
<text x="987.2" y="360.2" font-size="3.50" fill="#f47b20" text-anchor="middle">0.76</text>
<text x="849.7" y="368.2" font-size="3.60" fill="#ececec" font-weight="bold">УТМ ВВ/ВВВ</text>
<text x="902.2" y="368.2" font-size="3.50" fill="#d0d0d0" text-anchor="middle">10.37</text>
<text x="920.0" y="368.2" font-size="3.50" fill="#d0d0d0" text-anchor="middle">16.64</text>
<text x="941.6" y="368.2" font-size="3.50" fill="#d0d0d0" text-anchor="middle">14.82</text>
<text x="967.2" y="368.2" font-size="3.50" fill="#d0d0d0" text-anchor="middle">14.38</text>
<text x="987.2" y="368.2" font-size="3.50" fill="#f47b20" text-anchor="middle">0.44</text>
<text x="849.7" y="376.3" font-size="3.60" fill="#ececec" font-weight="bold">Спред ОФЗ к ВВ-</text>
<text x="902.2" y="376.3" font-size="3.50" fill="#d0d0d0" text-anchor="middle">1.22</text>
<text x="920.0" y="376.3" font-size="3.50" fill="#d0d0d0" text-anchor="middle">6.21</text>
<text x="941.6" y="376.3" font-size="3.50" fill="#d0d0d0" text-anchor="middle">5.48</text>
<text x="967.2" y="376.3" font-size="3.50" fill="#d0d0d0" text-anchor="middle">5.11</text>
<text x="987.2" y="376.3" font-size="3.50" fill="#f47b20" text-anchor="middle">0.37</text>
<text x="849.7" y="384.7" font-size="3.60" fill="#ececec" font-weight="bold">Спред ОФЗ к ВВ/ВВВ</text>
<text x="902.2" y="384.7" font-size="3.50" fill="#d0d0d0" text-anchor="middle">0.14</text>
<text x="920.0" y="384.7" font-size="3.50" fill="#d0d0d0" text-anchor="middle">2.72</text>
<text x="941.6" y="384.7" font-size="3.50" fill="#d0d0d0" text-anchor="middle">1.51</text>
<text x="967.2" y="384.7" font-size="3.50" fill="#d0d0d0" text-anchor="middle">1.46</text>
<text x="987.2" y="384.7" font-size="3.50" fill="#f47b20" text-anchor="middle">0.05</text>
<text x="0" y="0" font-size="4.6" fill="#b4b4b8" text-anchor="end" transform="translate(709.5 396) rotate(-45)">05.03.2023</text>
<text x="0" y="0" font-size="4.6" fill="#b4b4b8" text-anchor="end" transform="translate(733.3 396) rotate(-45)">05.04.2023</text>
<text x="0" y="0" font-size="4.6" fill="#b4b4b8" text-anchor="end" transform="translate(757.2 396) rotate(-45)">20.05.2023</text>
<text x="0" y="0" font-size="4.6" fill="#b4b4b8" text-anchor="end" transform="translate(781.0 396) rotate(-45)">05.06.2023</text>
<text x="0" y="0" font-size="4.6" fill="#b4b4b8" text-anchor="end" transform="translate(804.8 396) rotate(-45)">05.07.2023</text>
<text x="0" y="0" font-size="4.6" fill="#b4b4b8" text-anchor="end" transform="translate(828.7 396) rotate(-45)">05.08.2023</text>
<text x="0" y="0" font-size="4.6" fill="#b4b4b8" text-anchor="end" transform="translate(852.5 396) rotate(-45)">05.09.2023</text>
<text x="0" y="0" font-size="4.6" fill="#b4b4b8" text-anchor="end" transform="translate(876.3 396) rotate(-45)">05.10.2023</text>
<text x="0" y="0" font-size="4.6" fill="#b4b4b8" text-anchor="end" transform="translate(900.2 396) rotate(-45)">20.11.2023</text>
<text x="0" y="0" font-size="4.6" fill="#b4b4b8" text-anchor="end" transform="translate(924.0 396) rotate(-45)">20.12.2023</text>
<text x="0" y="0" font-size="4.6" fill="#b4b4b8" text-anchor="end" transform="translate(947.8 396) rotate(-45)">05.01.2024</text>
<text x="0" y="0" font-size="4.6" fill="#b4b4b8" text-anchor="end" transform="translate(971.7 396) rotate(-45)">05.02.2024</text>
<text x="0" y="0" font-size="4.6" fill="#b4b4b8" text-anchor="end" transform="translate(995.5 396) rotate(-45)">05.03.2024</text>
<line x1="700.0" y1="430.0" x2="710.0" y2="430.0" stroke="#6e4a33" stroke-width="0.8"/>
<text x="712.0" y="431.5" font-size="4.20" fill="#9a9a9e">УТМ ОФЗ</text>
<line x1="737.0" y1="430.0" x2="747.0" y2="430.0" stroke="#f47b20" stroke-width="1.3"/>
<text x="749.0" y="431.5" font-size="4.20" fill="#9a9a9e">УТМ ВВ-</text>
<line x1="775.0" y1="430.0" x2="785.0" y2="430.0" stroke="#b47448" stroke-width="0.8"/>
<text x="787.0" y="431.5" font-size="4.20" fill="#9a9a9e">УТМ ВВ/ВВВ</text>
<line x1="820.0" y1="430.0" x2="832.0" y2="430.0" stroke="#8a8a8a" stroke-width="0.8" stroke-dasharray="2 1"/>
<text x="834.0" y="431.5" font-size="4.20" fill="#9a9a9e">КБД Московской Биржи (RUB Yield Curve 10Y)</text>
<g transform="translate(981.0 240.3) scale(1.000)"><path d="M0.2 15.6 L5.6 0.2 L7.6 0.2 L12.9 15.6 L11.2 15.6 L6.6 2.6 L2.3 15.6Z" fill="#fff"/><path d="M11.2 3.2 C10.6 7 9.2 11.5 7.8 15.2 C9.8 14.4 12 13.2 14.2 12" fill="none" stroke="#f47b20" stroke-width="1.6" stroke-linecap="round"/><path d="M4.4 8.8 L12.6 8.8" stroke="#f47b20" stroke-width="1.5" stroke-linecap="round"/></g>
<text x="1067.8" y="260.2" font-size="14.30" fill="#ffffff" font-weight="bold" textLength="196.2" lengthAdjust="spacingAndGlyphs">Изменение КБД за Марта 2024</text>
<line x1="1075.6" y1="288.9" x2="1320.0" y2="288.9" stroke="#3d3f45" stroke-width="0.7"/>
<text x="1070.2" y="290.3" font-size="4.30" fill="#c8c8cb" text-anchor="end">15,00</text>
<line x1="1075.6" y1="308.2" x2="1320.0" y2="308.2" stroke="#3d3f45" stroke-width="0.7"/>
<text x="1070.2" y="309.6" font-size="4.30" fill="#c8c8cb" text-anchor="end">14,50</text>
<line x1="1075.6" y1="327.5" x2="1320.0" y2="327.5" stroke="#3d3f45" stroke-width="0.7"/>
<text x="1070.2" y="328.9" font-size="4.30" fill="#c8c8cb" text-anchor="end">14,00</text>
<line x1="1075.6" y1="346.8" x2="1320.0" y2="346.8" stroke="#3d3f45" stroke-width="0.7"/>
<text x="1070.2" y="348.2" font-size="4.30" fill="#c8c8cb" text-anchor="end">13,50</text>
<line x1="1075.6" y1="366.1" x2="1320.0" y2="366.1" stroke="#3d3f45" stroke-width="0.7"/>
<text x="1070.2" y="367.5" font-size="4.30" fill="#c8c8cb" text-anchor="end">13,00</text>
<line x1="1075.6" y1="385.4" x2="1320.0" y2="385.4" stroke="#3d3f45" stroke-width="0.7"/>
<text x="1070.2" y="386.8" font-size="4.30" fill="#c8c8cb" text-anchor="end">12,50</text>
<line x1="1075.6" y1="404.7" x2="1320.0" y2="404.7" stroke="#3d3f45" stroke-width="0.7"/>
<text x="1070.2" y="406.1" font-size="4.30" fill="#c8c8cb" text-anchor="end">12,00</text>
<line x1="1075.6" y1="424.0" x2="1320.0" y2="424.0" stroke="#3d3f45" stroke-width="0.7"/>
<text x="1070.2" y="425.4" font-size="4.30" fill="#c8c8cb" text-anchor="end">11,50</text>
<line x1="1075.6" y1="280.0" x2="1075.6" y2="424.0" stroke="#3d3f45" stroke-width="0.7"/>
<line x1="1095.6" y1="280.0" x2="1095.6" y2="424.0" stroke="#3d3f45" stroke-width="0.7"/>
<line x1="1116.7" y1="280.0" x2="1116.7" y2="424.0" stroke="#3d3f45" stroke-width="0.7"/>
<line x1="1136.7" y1="280.0" x2="1136.7" y2="424.0" stroke="#3d3f45" stroke-width="0.7"/>
<line x1="1156.7" y1="280.0" x2="1156.7" y2="424.0" stroke="#3d3f45" stroke-width="0.7"/>
<line x1="1176.7" y1="280.0" x2="1176.7" y2="424.0" stroke="#3d3f45" stroke-width="0.7"/>
<line x1="1197.8" y1="280.0" x2="1197.8" y2="424.0" stroke="#3d3f45" stroke-width="0.7"/>
<line x1="1217.8" y1="280.0" x2="1217.8" y2="424.0" stroke="#3d3f45" stroke-width="0.7"/>
<line x1="1238.9" y1="280.0" x2="1238.9" y2="424.0" stroke="#3d3f45" stroke-width="0.7"/>
<line x1="1258.9" y1="280.0" x2="1258.9" y2="424.0" stroke="#3d3f45" stroke-width="0.7"/>
<line x1="1278.9" y1="280.0" x2="1278.9" y2="424.0" stroke="#3d3f45" stroke-width="0.7"/>
<line x1="1300.0" y1="280.0" x2="1300.0" y2="424.0" stroke="#3d3f45" stroke-width="0.7"/>
<line x1="1320.0" y1="280.0" x2="1320.0" y2="424.0" stroke="#3d3f45" stroke-width="0.7"/>
<text x="1085.6" y="431.5" font-size="4.30" fill="#c8c8cb" text-anchor="middle">0,25</text>
<text x="1105.6" y="431.5" font-size="4.30" fill="#c8c8cb" text-anchor="middle">0,5</text>
<text x="1126.0" y="431.5" font-size="4.30" fill="#c8c8cb" text-anchor="middle">0,75</text>
<text x="1146.7" y="431.5" font-size="4.30" fill="#c8c8cb" text-anchor="middle">1</text>
<text x="1166.9" y="431.5" font-size="4.30" fill="#c8c8cb" text-anchor="middle">2</text>
<text x="1187.1" y="431.5" font-size="4.30" fill="#c8c8cb" text-anchor="middle">3</text>
<text x="1208.0" y="431.5" font-size="4.30" fill="#c8c8cb" text-anchor="middle">4</text>
<text x="1228.2" y="431.5" font-size="4.30" fill="#c8c8cb" text-anchor="middle">7</text>
<text x="1248.7" y="431.5" font-size="4.30" fill="#c8c8cb" text-anchor="middle">10</text>
<text x="1269.3" y="431.5" font-size="4.30" fill="#c8c8cb" text-anchor="middle">15</text>
<text x="1289.6" y="431.5" font-size="4.30" fill="#c8c8cb" text-anchor="middle">20</text>
<text x="1310.0" y="431.5" font-size="4.30" fill="#c8c8cb" text-anchor="middle">30</text>
<path d="M1085.6 415.1 C1088.9 411.2 1098.8 397.5 1105.6 391.6 C1112.3 385.7 1119.1 382.4 1126.0 379.6 C1132.9 376.8 1139.9 374.0 1146.7 374.9 C1153.5 375.8 1160.1 380.3 1166.9 384.9 C1173.6 389.5 1180.3 397.7 1187.1 402.7 C1194.0 407.7 1201.1 413.1 1208.0 414.7 C1214.9 416.3 1221.4 413.1 1228.2 412.4 C1235.0 411.7 1241.8 410.6 1248.7 410.4 C1255.5 410.2 1262.5 410.4 1269.3 411.1 C1276.1 411.8 1282.8 413.0 1289.6 414.4 C1296.3 415.8 1306.6 418.5 1310.0 419.3" fill="none" stroke="#a4a6aa" stroke-width="0.7" stroke-dasharray="2 1.6"/>
<path d="M1085.6 342.9 L1105.6 342.9 L1126.0 342.9 L1146.7 342.9 L1166.9 355.1 L1187.1 372.9 L1208.0 390.2 L1228.2 393.3 L1248.7 392.9 L1269.3 383.3 L1289.6 367.3 L1310.0 333.3" fill="none" stroke="#5a3b28" stroke-width="1.0" stroke-linejoin="round"/>
<circle cx="1085.6" cy="342.9" r="1.5" fill="#5a3b28"/>
<circle cx="1105.6" cy="342.9" r="1.5" fill="#5a3b28"/>
<circle cx="1126.0" cy="342.9" r="1.5" fill="#5a3b28"/>
<circle cx="1146.7" cy="342.9" r="1.5" fill="#5a3b28"/>
<circle cx="1166.9" cy="355.1" r="1.5" fill="#5a3b28"/>
<circle cx="1187.1" cy="372.9" r="1.5" fill="#5a3b28"/>
<circle cx="1208.0" cy="390.2" r="1.5" fill="#5a3b28"/>
<circle cx="1228.2" cy="393.3" r="1.5" fill="#5a3b28"/>
<circle cx="1248.7" cy="392.9" r="1.5" fill="#5a3b28"/>
<circle cx="1269.3" cy="383.3" r="1.5" fill="#5a3b28"/>
<circle cx="1289.6" cy="367.3" r="1.5" fill="#5a3b28"/>
<circle cx="1310.0" cy="333.3" r="1.5" fill="#5a3b28"/>
<line x1="1085.6" y1="338.3" x2="1085.6" y2="293.3" stroke="#f2f2f2" stroke-width="0.9" stroke-dasharray="1.9 1.0"/>
<path d="M1083.8 294.4 L1085.6 292.7 L1087.4 294.4" fill="none" stroke="#f2f2f2" stroke-width="0.85" stroke-linejoin="round"/>
<line x1="1105.6" y1="338.7" x2="1105.6" y2="302.5" stroke="#f2f2f2" stroke-width="0.9" stroke-dasharray="1.9 1.0"/>
<path d="M1103.8 303.6 L1105.6 301.9 L1107.4 303.6" fill="none" stroke="#f2f2f2" stroke-width="0.85" stroke-linejoin="round"/>
<line x1="1126.0" y1="339.0" x2="1126.0" y2="310.8" stroke="#f2f2f2" stroke-width="0.9" stroke-dasharray="1.9 1.0"/>
<path d="M1124.2 311.9 L1126.0 310.2 L1127.8 311.9" fill="none" stroke="#f2f2f2" stroke-width="0.85" stroke-linejoin="round"/>
<line x1="1146.7" y1="339.4" x2="1146.7" y2="319.0" stroke="#f2f2f2" stroke-width="0.9" stroke-dasharray="1.9 1.0"/>
<path d="M1144.9 320.1 L1146.7 318.4 L1148.5 320.1" fill="none" stroke="#f2f2f2" stroke-width="0.85" stroke-linejoin="round"/>
<line x1="1166.9" y1="352.2" x2="1166.9" y2="346.7" stroke="#f2f2f2" stroke-width="0.9" stroke-dasharray="1.9 1.0"/>
<path d="M1165.1 347.8 L1166.9 346.1 L1168.7 347.8" fill="none" stroke="#f2f2f2" stroke-width="0.85" stroke-linejoin="round"/>
<line x1="1187.1" y1="370.0" x2="1187.1" y2="364.8" stroke="#f2f2f2" stroke-width="0.9" stroke-dasharray="1.9 1.0"/>
<path d="M1185.3 365.9 L1187.1 364.2 L1188.9 365.9" fill="none" stroke="#f2f2f2" stroke-width="0.85" stroke-linejoin="round"/>
<line x1="1208.0" y1="387.1" x2="1208.0" y2="376.3" stroke="#f2f2f2" stroke-width="0.9" stroke-dasharray="1.9 1.0"/>
<path d="M1206.2 377.4 L1208.0 375.7 L1209.8 377.4" fill="none" stroke="#f2f2f2" stroke-width="0.85" stroke-linejoin="round"/>
<line x1="1228.2" y1="389.9" x2="1228.2" y2="372.8" stroke="#f2f2f2" stroke-width="0.9" stroke-dasharray="1.9 1.0"/>
<path d="M1226.4 373.9 L1228.2 372.2 L1230.0 373.9" fill="none" stroke="#f2f2f2" stroke-width="0.85" stroke-linejoin="round"/>
<line x1="1248.7" y1="389.1" x2="1248.7" y2="363.5" stroke="#f2f2f2" stroke-width="0.9" stroke-dasharray="1.9 1.0"/>
<path d="M1246.9 364.6 L1248.7 362.9 L1250.5 364.6" fill="none" stroke="#f2f2f2" stroke-width="0.85" stroke-linejoin="round"/>
<line x1="1269.3" y1="379.3" x2="1269.3" y2="348.2" stroke="#f2f2f2" stroke-width="0.9" stroke-dasharray="1.9 1.0"/>
<path d="M1267.5 349.3 L1269.3 347.6 L1271.1 349.3" fill="none" stroke="#f2f2f2" stroke-width="0.85" stroke-linejoin="round"/>
<line x1="1289.6" y1="363.5" x2="1289.6" y2="336.3" stroke="#f2f2f2" stroke-width="0.9" stroke-dasharray="1.9 1.0"/>
<path d="M1287.8 337.4 L1289.6 335.7 L1291.4 337.4" fill="none" stroke="#f2f2f2" stroke-width="0.85" stroke-linejoin="round"/>
<line x1="1310.0" y1="330.3" x2="1310.0" y2="322.0" stroke="#f2f2f2" stroke-width="0.9" stroke-dasharray="1.9 1.0"/>
<path d="M1308.2 323.1 L1310.0 321.4 L1311.8 323.1" fill="none" stroke="#f2f2f2" stroke-width="0.85" stroke-linejoin="round"/>
<path d="M1085.6 284.0 L1105.6 294.0 L1126.0 303.1 L1146.7 312.0 L1166.9 341.1 L1187.1 359.3 L1208.0 370.2 L1228.2 366.2 L1248.7 356.0 L1269.3 340.2 L1289.6 328.7 L1310.0 316.2" fill="none" stroke="#f47b20" stroke-width="4" stroke-opacity="0.18"/>
<path d="M1085.6 284.0 L1105.6 294.0 L1126.0 303.1 L1146.7 312.0 L1166.9 341.1 L1187.1 359.3 L1208.0 370.2 L1228.2 366.2 L1248.7 356.0 L1269.3 340.2 L1289.6 328.7 L1310.0 316.2" fill="none" stroke="#f47b20" stroke-width="1.2" stroke-linejoin="round"/>
<circle cx="1085.6" cy="284.0" r="2.3" fill="#f47b20"/>
<circle cx="1105.6" cy="294.0" r="2.3" fill="#f47b20"/>
<circle cx="1126.0" cy="303.1" r="2.3" fill="#f47b20"/>
<circle cx="1146.7" cy="312.0" r="2.3" fill="#f47b20"/>
<circle cx="1166.9" cy="341.1" r="2.3" fill="#f47b20"/>
<circle cx="1187.1" cy="359.3" r="2.3" fill="#f47b20"/>
<circle cx="1208.0" cy="370.2" r="2.3" fill="#f47b20"/>
<circle cx="1228.2" cy="366.2" r="2.3" fill="#f47b20"/>
<circle cx="1248.7" cy="356.0" r="2.3" fill="#f47b20"/>
<circle cx="1269.3" cy="340.2" r="2.3" fill="#f47b20"/>
<circle cx="1289.6" cy="328.7" r="2.3" fill="#f47b20"/>
<circle cx="1310.0" cy="316.2" r="2.3" fill="#f47b20"/>
<text x="1084.1" y="278.8" font-size="4.80" fill="#e8e8e8" text-anchor="middle">+153</text>
<text x="1105.6" y="288.8" font-size="4.80" fill="#e8e8e8" text-anchor="middle">+127</text>
<text x="1126.0" y="297.9" font-size="4.80" fill="#e8e8e8" text-anchor="middle">+103</text>
<text x="1146.7" y="306.8" font-size="4.80" fill="#e8e8e8" text-anchor="middle">+82</text>
<text x="1166.9" y="335.9" font-size="4.80" fill="#e8e8e8" text-anchor="middle">+37</text>
<text x="1187.1" y="354.1" font-size="4.80" fill="#e8e8e8" text-anchor="middle">+37</text>
<text x="1208.0" y="365.0" font-size="4.80" fill="#e8e8e8" text-anchor="middle">+53</text>
<text x="1228.2" y="361.0" font-size="4.80" fill="#e8e8e8" text-anchor="middle">+72</text>
<text x="1248.7" y="350.8" font-size="4.80" fill="#e8e8e8" text-anchor="middle">+98</text>
<text x="1269.3" y="335.0" font-size="4.80" fill="#e8e8e8" text-anchor="middle">+112</text>
<text x="1289.6" y="323.5" font-size="4.80" fill="#e8e8e8" text-anchor="middle">+101</text>
<text x="1310.0" y="311.0" font-size="4.80" fill="#e8e8e8" text-anchor="middle">+45</text>
<text x="1317.2" y="316.2" font-size="4.30"><tspan fill="#ffffff" font-weight="bold">Стало </tspan><tspan fill="#bdbdbd">(29.02.24)</tspan></text>
<text x="1316.2" y="332.2" font-size="4.30"><tspan fill="#ffffff" font-weight="bold">Было </tspan><tspan fill="#bdbdbd">(29.02.24)</tspan></text>
<text x="1316.2" y="418.4" font-size="4.00" fill="#bdbdbd">Начало года (29.12.23)</text>
<g transform="translate(1342.0 240.3) scale(1.000)"><path d="M0.2 15.6 L5.6 0.2 L7.6 0.2 L12.9 15.6 L11.2 15.6 L6.6 2.6 L2.3 15.6Z" fill="#fff"/><path d="M11.2 3.2 C10.6 7 9.2 11.5 7.8 15.2 C9.8 14.4 12 13.2 14.2 12" fill="none" stroke="#f47b20" stroke-width="1.6" stroke-linecap="round"/><path d="M4.4 8.8 L12.6 8.8" stroke="#f47b20" stroke-width="1.5" stroke-linecap="round"/></g>
<rect x="1443.3" y="248.9" width="252.7" height="51.1" rx="5" fill="#393c43"/>
<g transform="translate(1455.4 259.3)"><path d="M1.4 11.6 L16.6 0.6 L31.8 11.6 Z" fill="#f47b20" stroke="#f47b20" stroke-width="0.8" stroke-linejoin="round"/><path d="M4.5 9.6 L16.6 1.9 L28.7 9.6" fill="none" stroke="#c85a10" stroke-width="0.4" stroke-dasharray="1.4 0.8"/><circle cx="16.6" cy="7.4" r="2.3" fill="#fff" stroke="#2a2c31" stroke-width="0.4"/><rect x="2.8" y="12.6" width="6.6" height="1.7" rx="0.5" fill="#fff"/><rect x="13" y="12.6" width="7.2" height="1.7" rx="0.5" fill="#fff"/><rect x="23.6" y="12.6" width="6.6" height="1.7" rx="0.5" fill="#fff"/><g stroke="#23252a" stroke-width="0.7"><path d="M4.6 16 V24.8 M8.7 16 V24.8 M24.8 16 V24.8 M28.9 16 V24.8"/></g><circle cx="16.6" cy="24.6" r="4.8" fill="#f47b20"/><text x="16.6" y="27.2" font-size="7" fill="#2a2c31" text-anchor="middle" font-weight="bold">$</text><rect x="1.2" y="28.2" width="31" height="1.5" rx="0.7" fill="#f47b20"/><path d="M3.30 1.00 L3.75 2.45 L5.20 2.90 L3.75 3.35 L3.30 4.80 L2.85 3.35 L1.40 2.90 L2.85 2.45Z" fill="#12c5f2"/><path d="M29.80 1.00 L30.25 2.45 L31.70 2.90 L30.25 3.35 L29.80 4.80 L29.35 3.35 L27.90 2.90 L29.35 2.45Z" fill="#12c5f2"/></g>
<text x="1498.4" y="268.6" font-size="8.60" fill="#ffffff" font-weight="bold" textLength="157.2" lengthAdjust="spacingAndGlyphs">Ликвидность банковского сектора</text>
<text x="1498.4" y="278.6" font-size="8.60" fill="#ffffff" font-weight="bold" textLength="81.0" lengthAdjust="spacingAndGlyphs">/ ключевая ставка</text>
<line x1="1498.2" y1="285.8" x2="1511.2" y2="285.8" stroke="#f47b20" stroke-width="0.9"/>
<text x="1515.0" y="287.2" font-size="4.10" fill="#b8b8bb">Значение</text>
<line x1="1550.7" y1="285.8" x2="1563.8" y2="285.8" stroke="#e0e0e0" stroke-width="0.9"/>
<text x="1568.0" y="287.2" font-size="4.10" fill="#b8b8bb">Значение</text>
<g transform="translate(1665.0 266.4) scale(1.000)"><path d="M0.2 15.6 L5.6 0.2 L7.6 0.2 L12.9 15.6 L11.2 15.6 L6.6 2.6 L2.3 15.6Z" fill="#fff"/><path d="M11.2 3.2 C10.6 7 9.2 11.5 7.8 15.2 C9.8 14.4 12 13.2 14.2 12" fill="none" stroke="#f47b20" stroke-width="1.6" stroke-linecap="round"/><path d="M4.4 8.8 L12.6 8.8" stroke="#f47b20" stroke-width="1.5" stroke-linecap="round"/></g>
<line x1="1455.0" y1="313.1" x2="1692.0" y2="313.1" stroke="#3d3f45" stroke-width="0.6"/>
<text x="1451.5" y="314.4" font-size="3.90" fill="#d8d8da" text-anchor="end">8 000</text>
<line x1="1455.0" y1="331.5" x2="1692.0" y2="331.5" stroke="#3d3f45" stroke-width="0.6"/>
<text x="1451.5" y="332.8" font-size="3.90" fill="#d8d8da" text-anchor="end">6 000</text>
<line x1="1455.0" y1="349.9" x2="1692.0" y2="349.9" stroke="#3d3f45" stroke-width="0.6"/>
<text x="1451.5" y="351.2" font-size="3.90" fill="#d8d8da" text-anchor="end">4 000</text>
<line x1="1455.0" y1="368.3" x2="1692.0" y2="368.3" stroke="#3d3f45" stroke-width="0.6"/>
<text x="1451.5" y="369.6" font-size="3.90" fill="#d8d8da" text-anchor="end">2 000</text>
<line x1="1455.0" y1="386.7" x2="1692.0" y2="386.7" stroke="#3d3f45" stroke-width="0.6"/>
<text x="1451.5" y="388.0" font-size="3.90" fill="#d8d8da" text-anchor="end">0</text>
<line x1="1455.0" y1="405.1" x2="1692.0" y2="405.1" stroke="#3d3f45" stroke-width="0.6"/>
<text x="1451.5" y="406.4" font-size="3.90" fill="#d8d8da" text-anchor="end">-2 000</text>
<line x1="1455.0" y1="423.5" x2="1692.0" y2="423.5" stroke="#3d3f45" stroke-width="0.6"/>
<text x="1451.5" y="424.8" font-size="3.90" fill="#d8d8da" text-anchor="end">-4 000</text>
<line x1="1455.0" y1="313.1" x2="1455.0" y2="423.5" stroke="#3d3f45" stroke-width="0.5"/>
<line x1="1462.7" y1="313.1" x2="1462.7" y2="423.5" stroke="#3d3f45" stroke-width="0.5"/>
<line x1="1470.5" y1="313.1" x2="1470.5" y2="423.5" stroke="#3d3f45" stroke-width="0.5"/>
<line x1="1478.2" y1="313.1" x2="1478.2" y2="423.5" stroke="#3d3f45" stroke-width="0.5"/>
<line x1="1485.9" y1="313.1" x2="1485.9" y2="423.5" stroke="#3d3f45" stroke-width="0.5"/>
<line x1="1493.7" y1="313.1" x2="1493.7" y2="423.5" stroke="#3d3f45" stroke-width="0.5"/>
<line x1="1501.4" y1="313.1" x2="1501.4" y2="423.5" stroke="#3d3f45" stroke-width="0.5"/>
<line x1="1509.1" y1="313.1" x2="1509.1" y2="423.5" stroke="#3d3f45" stroke-width="0.5"/>
<line x1="1516.8" y1="313.1" x2="1516.8" y2="423.5" stroke="#3d3f45" stroke-width="0.5"/>
<line x1="1524.6" y1="313.1" x2="1524.6" y2="423.5" stroke="#3d3f45" stroke-width="0.5"/>
<line x1="1532.3" y1="313.1" x2="1532.3" y2="423.5" stroke="#3d3f45" stroke-width="0.5"/>
<line x1="1540.0" y1="313.1" x2="1540.0" y2="423.5" stroke="#3d3f45" stroke-width="0.5"/>
<line x1="1547.8" y1="313.1" x2="1547.8" y2="423.5" stroke="#3d3f45" stroke-width="0.5"/>
<line x1="1555.5" y1="313.1" x2="1555.5" y2="423.5" stroke="#3d3f45" stroke-width="0.5"/>
<line x1="1563.2" y1="313.1" x2="1563.2" y2="423.5" stroke="#3d3f45" stroke-width="0.5"/>
<line x1="1571.0" y1="313.1" x2="1571.0" y2="423.5" stroke="#3d3f45" stroke-width="0.5"/>
<line x1="1578.7" y1="313.1" x2="1578.7" y2="423.5" stroke="#3d3f45" stroke-width="0.5"/>
<line x1="1586.4" y1="313.1" x2="1586.4" y2="423.5" stroke="#3d3f45" stroke-width="0.5"/>
<line x1="1594.1" y1="313.1" x2="1594.1" y2="423.5" stroke="#3d3f45" stroke-width="0.5"/>
<line x1="1601.9" y1="313.1" x2="1601.9" y2="423.5" stroke="#3d3f45" stroke-width="0.5"/>
<line x1="1609.6" y1="313.1" x2="1609.6" y2="423.5" stroke="#3d3f45" stroke-width="0.5"/>
<line x1="1617.3" y1="313.1" x2="1617.3" y2="423.5" stroke="#3d3f45" stroke-width="0.5"/>
<line x1="1625.1" y1="313.1" x2="1625.1" y2="423.5" stroke="#3d3f45" stroke-width="0.5"/>
<line x1="1632.8" y1="313.1" x2="1632.8" y2="423.5" stroke="#3d3f45" stroke-width="0.5"/>
<line x1="1640.5" y1="313.1" x2="1640.5" y2="423.5" stroke="#3d3f45" stroke-width="0.5"/>
<line x1="1648.2" y1="313.1" x2="1648.2" y2="423.5" stroke="#3d3f45" stroke-width="0.5"/>
<line x1="1656.0" y1="313.1" x2="1656.0" y2="423.5" stroke="#3d3f45" stroke-width="0.5"/>
<line x1="1663.7" y1="313.1" x2="1663.7" y2="423.5" stroke="#3d3f45" stroke-width="0.5"/>
<line x1="1671.4" y1="313.1" x2="1671.4" y2="423.5" stroke="#3d3f45" stroke-width="0.5"/>
<line x1="1679.2" y1="313.1" x2="1679.2" y2="423.5" stroke="#3d3f45" stroke-width="0.5"/>
<line x1="1686.9" y1="313.1" x2="1686.9" y2="423.5" stroke="#3d3f45" stroke-width="0.5"/>
<path d="M1454.9 380.3 L1531.8 380.3 L1534.0 372.4 L1544.8 372.4 L1546.1 344.3 L1561.7 344.3 L1564.3 336.2 L1584.8 336.2 L1586.1 320.4 L1611.5 320.4 L1612.8 311.5 L1691.9 311.5" fill="none" stroke="#c9cacc" stroke-width="0.8" stroke-linejoin="round"/>
<text x="1584.0" y="321.6" font-size="3.60" fill="#e0e0e0" text-anchor="end">15</text>
<text x="1609.4" y="313.8" font-size="3.60" fill="#e0e0e0" text-anchor="end">16</text>
<path d="M1454.9 408.5 L1456.5 406.6 L1457.8 402.6 L1459.1 398.8 L1460.1 401.9 L1461.1 405.3 L1462.0 422.2 L1462.8 405.3 L1463.7 404.8 L1464.7 405.7 L1465.6 405.3 L1466.9 403.7 L1468.2 403.3 L1469.2 400.1 L1470.2 396.8 L1471.5 397.9 L1472.8 398.1 L1473.9 397.8 L1475.0 398.6 L1476.0 398.8 L1477.3 407.9 L1478.6 397.4 L1479.9 397.6 L1481.2 397.4 L1482.6 395.6 L1483.9 394.8 L1485.2 394.7 L1486.5 394.8 L1487.8 393.8 L1489.1 392.2 L1490.4 392.8 L1491.7 393.5 L1493.0 395.1 L1494.3 396.1 L1495.2 400.0 L1496.2 404.6 L1497.5 396.1 L1498.6 395.0 L1499.7 393.9 L1500.8 393.5 L1502.1 391.9 L1503.4 390.3 L1504.4 394.1 L1505.3 396.8 L1506.6 397.9 L1507.9 398.8 L1509.0 398.9 L1510.1 398.2 L1511.2 398.1 L1512.5 397.1 L1513.8 395.5 L1514.8 395.0 L1515.8 395.2 L1516.7 395.7 L1517.7 395.5 L1519.0 393.2 L1520.3 390.3 L1521.6 390.8 L1522.9 391.6 L1524.2 392.7 L1525.5 394.8 L1526.8 403.3 L1528.1 389.0 L1529.1 389.7 L1530.1 390.9 L1531.4 388.3 L1532.4 366.8 L1533.3 346.0 L1534.6 393.5 L1535.9 390.9 L1536.9 389.4 L1537.9 388.3 L1538.9 392.6 L1539.8 396.1 L1541.1 390.9 L1542.7 405.3 L1543.8 393.5 L1545.1 394.8 L1545.7 324.5 L1546.6 390.9 L1547.8 389.3 L1549.0 388.3 L1549.9 388.1 L1550.9 387.0 L1552.2 384.6 L1553.5 381.2 L1554.8 387.0 L1555.8 385.5 L1556.8 385.1 L1558.1 384.3 L1559.4 383.8 L1560.4 383.4 L1561.3 383.1 L1562.2 314.8 L1563.3 315.2 L1564.3 316.7 L1564.8 389.6 L1566.0 392.8 L1567.2 396.1 L1568.5 397.3 L1569.8 397.4 L1570.8 393.4 L1571.7 390.3 L1573.0 398.8 L1574.3 398.5 L1575.7 398.1 L1576.3 402.7 L1577.3 331.7 L1578.3 331.6 L1579.2 332.3 L1580.2 367.5 L1581.5 372.7 L1582.8 375.3 L1583.8 374.4 L1584.8 373.4 L1586.1 380.5 L1587.4 376.6 L1588.0 388.3 L1589.0 391.4 L1590.0 393.5 L1591.0 393.8 L1591.9 394.8 L1593.2 377.9 L1594.5 378.0 L1595.8 379.2 L1596.8 378.7 L1597.8 379.3 L1598.8 378.6 L1599.7 379.2 L1600.8 378.3 L1601.9 378.3 L1603.0 377.9 L1604.3 374.7 L1605.4 375.2 L1606.5 374.6 L1607.6 374.7 L1608.2 381.8 L1609.5 383.0 L1610.8 384.4 L1611.9 386.3 L1613.0 387.4 L1614.1 389.6 L1615.4 396.1 L1616.7 396.9 L1618.0 397.4 L1618.9 386.0 L1619.9 375.3 L1621.2 385.7 L1622.3 386.9 L1623.4 388.4 L1624.5 389.0 L1625.8 391.4 L1627.1 394.8 L1628.4 398.5 L1629.7 402.0 L1631.0 403.1 L1632.3 404.0 L1633.6 403.5 L1634.9 404.0 L1636.2 402.4 L1637.5 401.4 L1638.5 401.9 L1639.5 402.0 L1640.4 400.9 L1641.4 401.4 L1642.4 401.8 L1643.4 402.2 L1644.3 401.5 L1645.3 402.0 L1646.3 401.8 L1647.3 400.8 L1648.2 400.9 L1649.2 400.7 L1650.3 400.5 L1651.4 399.9 L1652.5 399.4 L1653.8 386.4 L1655.1 397.4 L1656.1 396.5 L1657.0 394.8 L1658.0 396.6 L1659.0 399.4 L1660.1 399.0 L1661.2 399.4 L1662.2 398.8 L1663.2 398.5 L1664.2 398.0 L1665.2 397.7 L1666.1 397.4 L1667.1 395.4 L1668.1 392.3 L1669.1 389.1 L1670.1 387.0 L1671.4 394.8 L1672.7 396.5 L1674.0 397.4 L1674.9 397.1 L1675.9 397.0 L1676.9 396.6 L1677.9 396.8 L1678.8 396.6 L1679.8 396.3 L1680.8 395.8 L1681.8 396.1 L1683.1 396.3 L1684.4 396.1 L1685.4 395.0 L1686.3 394.8 L1687.6 393.6 L1688.9 391.6 L1690.2 394.8 L1691.9 396.1" fill="none" stroke="#f47b20" stroke-width="0.8" stroke-linejoin="round"/>
<text x="0" y="0" font-size="3.7" fill="#f0f0f0" text-anchor="end" transform="translate(1456.3 390.5) rotate(-90)">03.01.23</text>
<text x="0" y="0" font-size="3.7" fill="#f0f0f0" text-anchor="end" transform="translate(1464.0 390.5) rotate(-90)">17.01.23</text>
<text x="0" y="0" font-size="3.7" fill="#f0f0f0" text-anchor="end" transform="translate(1471.8 390.5) rotate(-90)">31.01.23</text>
<text x="0" y="0" font-size="3.7" fill="#f0f0f0" text-anchor="end" transform="translate(1479.5 390.5) rotate(-90)">14.02.23</text>
<text x="0" y="0" font-size="3.7" fill="#f0f0f0" text-anchor="end" transform="translate(1487.2 390.5) rotate(-90)">28.02.23</text>
<text x="0" y="0" font-size="3.7" fill="#f0f0f0" text-anchor="end" transform="translate(1495.0 390.5) rotate(-90)">14.03.23</text>
<text x="0" y="0" font-size="3.7" fill="#f0f0f0" text-anchor="end" transform="translate(1502.7 390.5) rotate(-90)">28.03.23</text>
<text x="0" y="0" font-size="3.7" fill="#f0f0f0" text-anchor="end" transform="translate(1510.4 390.5) rotate(-90)">11.04.23</text>
<text x="0" y="0" font-size="3.7" fill="#f0f0f0" text-anchor="end" transform="translate(1518.1 390.5) rotate(-90)">25.04.23</text>
<text x="0" y="0" font-size="3.7" fill="#f0f0f0" text-anchor="end" transform="translate(1525.9 390.5) rotate(-90)">09.05.23</text>
<text x="0" y="0" font-size="3.7" fill="#f0f0f0" text-anchor="end" transform="translate(1533.6 390.5) rotate(-90)">23.05.23</text>
<text x="0" y="0" font-size="3.7" fill="#f0f0f0" text-anchor="end" transform="translate(1541.3 390.5) rotate(-90)">06.06.23</text>
<text x="0" y="0" font-size="3.7" fill="#f0f0f0" text-anchor="end" transform="translate(1549.1 390.5) rotate(-90)">20.06.23</text>
<text x="0" y="0" font-size="3.7" fill="#f0f0f0" text-anchor="end" transform="translate(1556.8 390.5) rotate(-90)">04.07.23</text>
<text x="0" y="0" font-size="3.7" fill="#f0f0f0" text-anchor="end" transform="translate(1564.5 390.5) rotate(-90)">18.07.23</text>
<text x="0" y="0" font-size="3.7" fill="#f0f0f0" text-anchor="end" transform="translate(1572.2 390.5) rotate(-90)">01.08.23</text>
<text x="0" y="0" font-size="3.7" fill="#f0f0f0" text-anchor="end" transform="translate(1580.0 390.5) rotate(-90)">15.08.23</text>
<text x="0" y="0" font-size="3.7" fill="#f0f0f0" text-anchor="end" transform="translate(1587.7 390.5) rotate(-90)">29.08.23</text>
<text x="0" y="0" font-size="3.7" fill="#f0f0f0" text-anchor="end" transform="translate(1595.4 390.5) rotate(-90)">12.09.23</text>
<text x="0" y="0" font-size="3.7" fill="#f0f0f0" text-anchor="end" transform="translate(1603.2 390.5) rotate(-90)">26.09.23</text>
<text x="0" y="0" font-size="3.7" fill="#f0f0f0" text-anchor="end" transform="translate(1610.9 390.5) rotate(-90)">10.10.23</text>
<text x="0" y="0" font-size="3.7" fill="#f0f0f0" text-anchor="end" transform="translate(1618.6 390.5) rotate(-90)">24.10.23</text>
<text x="0" y="0" font-size="3.7" fill="#f0f0f0" text-anchor="end" transform="translate(1626.4 390.5) rotate(-90)">07.11.23</text>
<text x="0" y="0" font-size="3.7" fill="#f0f0f0" text-anchor="end" transform="translate(1634.1 390.5) rotate(-90)">21.11.23</text>
<text x="0" y="0" font-size="3.7" fill="#f0f0f0" text-anchor="end" transform="translate(1641.8 390.5) rotate(-90)">05.12.23</text>
<text x="0" y="0" font-size="3.7" fill="#f0f0f0" text-anchor="end" transform="translate(1649.5 390.5) rotate(-90)">19.12.23</text>
<text x="0" y="0" font-size="3.7" fill="#f0f0f0" text-anchor="end" transform="translate(1657.3 390.5) rotate(-90)">02.01.24</text>
<text x="0" y="0" font-size="3.7" fill="#f0f0f0" text-anchor="end" transform="translate(1665.0 390.5) rotate(-90)">16.01.24</text>
<text x="0" y="0" font-size="3.7" fill="#f0f0f0" text-anchor="end" transform="translate(1672.7 390.5) rotate(-90)">30.01.24</text>
<text x="0" y="0" font-size="3.7" fill="#f0f0f0" text-anchor="end" transform="translate(1680.5 390.5) rotate(-90)">13.02.24</text>
<text x="0" y="0" font-size="3.7" fill="#f0f0f0" text-anchor="end" transform="translate(1688.2 390.5) rotate(-90)">27.02.24</text>
<g transform="translate(621.0 493.0) scale(1.000)"><path d="M0.2 15.6 L5.6 0.2 L7.6 0.2 L12.9 15.6 L11.2 15.6 L6.6 2.6 L2.3 15.6Z" fill="#fff"/><path d="M11.2 3.2 C10.6 7 9.2 11.5 7.8 15.2 C9.8 14.4 12 13.2 14.2 12" fill="none" stroke="#f47b20" stroke-width="1.6" stroke-linecap="round"/><path d="M4.4 8.8 L12.6 8.8" stroke="#f47b20" stroke-width="1.5" stroke-linecap="round"/></g>
<text x="365.1" y="528.4" font-size="7.00" textLength="187.8" lengthAdjust="spacingAndGlyphs"><tspan fill="#ececec">Если Банк России </tspan><tspan fill="#ffffff" font-weight="bold">увеличивает</tspan><tspan fill="#ececec"> ключевую ставку - цены</tspan></text>
<text x="365.1" y="536.6" font-size="7.00" fill="#ececec" textLength="131.5" lengthAdjust="spacingAndGlyphs">облигаций падают, а доходность растет</text>
<text x="365.1" y="604.6" font-size="7.00" textLength="176.8" lengthAdjust="spacingAndGlyphs"><tspan fill="#ececec">Если Банк России </tspan><tspan fill="#ffffff" font-weight="bold">понижает</tspan><tspan fill="#ececec"> ключевую ставку - цены</tspan></text>
<text x="365.1" y="612.8" font-size="7.00" fill="#ececec" textLength="130.0" lengthAdjust="spacingAndGlyphs">облигаций растут, а доходность падает</text>
<rect x="365.1" y="548.2" width="60.0" height="29.6" rx="3" fill="#4a4d54" fill-opacity="0.62"/>
<circle cx="395.1" cy="558.2" r="4.3" fill="#f47b20"/><path d="M395.1 560.8 L395.1 555.8 M393.1 557.6 L395.1 555.6 L397.1 557.6" stroke="#1e1f23" stroke-width="0.9" fill="none"/>
<text x="395.1" y="570.5" font-size="4.30" fill="#dcdcde" text-anchor="middle">Ключевая ставка</text>
<rect x="429.3" y="548.2" width="60.0" height="29.6" rx="3" fill="#4a4d54" fill-opacity="0.62"/>
<circle cx="459.3" cy="558.2" r="4.3" fill="#f47b20"/><path d="M459.3 560.8 L459.3 555.8 M457.3 557.6 L459.3 555.6 L461.3 557.6" stroke="#1e1f23" stroke-width="0.9" fill="none"/>
<text x="459.3" y="568.2" font-size="4.30" fill="#dcdcde" text-anchor="middle">Ставка по кредитам</text>
<text x="459.3" y="572.8" font-size="4.30" fill="#dcdcde" text-anchor="middle">и депозитам</text>
<rect x="493.3" y="548.2" width="60.0" height="29.6" rx="3" fill="#4a4d54" fill-opacity="0.62"/>
<circle cx="523.3" cy="558.2" r="4.3" fill="#f47b20"/><path d="M523.3 560.8 L523.3 555.8 M521.3 557.6 L523.3 555.6 L525.3 557.6" stroke="#1e1f23" stroke-width="0.9" fill="none"/>
<text x="523.3" y="568.2" font-size="4.30" fill="#dcdcde" text-anchor="middle">Доходность</text>
<text x="523.3" y="572.8" font-size="4.30" fill="#dcdcde" text-anchor="middle">облигаций</text>
<rect x="557.1" y="548.2" width="60.0" height="29.6" rx="3" fill="#4a4d54" fill-opacity="0.62"/>
<circle cx="587.1" cy="558.2" r="4.3" fill="#1e1f23"/><path d="M587.1 555.6 L587.1 560.6 M585.1 558.8 L587.1 560.8 L589.1 558.8" stroke="#f47b20" stroke-width="0.9" fill="none"/>
<text x="587.1" y="570.5" font-size="4.30" fill="#dcdcde" text-anchor="middle">Цены облигаций</text>
<rect x="365.1" y="624.2" width="60.0" height="29.6" rx="3" fill="#4a4d54" fill-opacity="0.62"/>
<circle cx="395.1" cy="634.2" r="4.3" fill="#1e1f23"/><path d="M395.1 631.6 L395.1 636.6 M393.1 634.8 L395.1 636.8 L397.1 634.8" stroke="#f47b20" stroke-width="0.9" fill="none"/>
<text x="395.1" y="646.5" font-size="4.30" fill="#dcdcde" text-anchor="middle">Ключевая ставка</text>
<rect x="429.3" y="624.2" width="60.0" height="29.6" rx="3" fill="#4a4d54" fill-opacity="0.62"/>
<circle cx="459.3" cy="634.2" r="4.3" fill="#1e1f23"/><path d="M459.3 631.6 L459.3 636.6 M457.3 634.8 L459.3 636.8 L461.3 634.8" stroke="#f47b20" stroke-width="0.9" fill="none"/>
<text x="459.3" y="644.2" font-size="4.30" fill="#dcdcde" text-anchor="middle">Ставка по кредитам</text>
<text x="459.3" y="648.8" font-size="4.30" fill="#dcdcde" text-anchor="middle">и депозитам</text>
<rect x="493.3" y="624.2" width="60.0" height="29.6" rx="3" fill="#4a4d54" fill-opacity="0.62"/>
<circle cx="523.3" cy="634.2" r="4.3" fill="#1e1f23"/><path d="M523.3 631.6 L523.3 636.6 M521.3 634.8 L523.3 636.8 L525.3 634.8" stroke="#f47b20" stroke-width="0.9" fill="none"/>
<text x="523.3" y="644.2" font-size="4.30" fill="#dcdcde" text-anchor="middle">Доходность</text>
<text x="523.3" y="648.8" font-size="4.30" fill="#dcdcde" text-anchor="middle">облигаций</text>
<rect x="557.1" y="624.2" width="60.0" height="29.6" rx="3" fill="#4a4d54" fill-opacity="0.62"/>
<circle cx="587.1" cy="634.2" r="4.3" fill="#f47b20"/><path d="M587.1 636.8 L587.1 631.8 M585.1 633.6 L587.1 631.6 L589.1 633.6" stroke="#1e1f23" stroke-width="0.9" fill="none"/>
<text x="587.1" y="646.5" font-size="4.30" fill="#dcdcde" text-anchor="middle">Цены облигаций</text>
<g transform="translate(981.0 489.0) scale(1.000)"><path d="M0.2 15.6 L5.6 0.2 L7.6 0.2 L12.9 15.6 L11.2 15.6 L6.6 2.6 L2.3 15.6Z" fill="#fff"/><path d="M11.2 3.2 C10.6 7 9.2 11.5 7.8 15.2 C9.8 14.4 12 13.2 14.2 12" fill="none" stroke="#f47b20" stroke-width="1.6" stroke-linecap="round"/><path d="M4.4 8.8 L12.6 8.8" stroke="#f47b20" stroke-width="1.5" stroke-linecap="round"/></g>
<text x="713.8" y="505.3" font-size="10.60" fill="#ffffff" font-weight="bold" textLength="235.5" lengthAdjust="spacingAndGlyphs">Как связаны срок до погашения с доходностью</text>
<text x="713.8" y="516.4" font-size="10.60" fill="#ffffff" font-weight="bold" textLength="200.6" lengthAdjust="spacingAndGlyphs">российских государственных облигаций</text>
<line x1="744.4" y1="546.7" x2="976.7" y2="546.7" stroke="#3c3e44" stroke-width="0.6"/>
<text x="737.5" y="548.0" font-size="4.00" fill="#cfcfd2" text-anchor="end">12,0</text>
<line x1="744.4" y1="571.6" x2="976.7" y2="571.6" stroke="#3c3e44" stroke-width="0.6"/>
<text x="737.5" y="572.9" font-size="4.00" fill="#cfcfd2" text-anchor="end">10,5</text>
<line x1="744.4" y1="596.9" x2="976.7" y2="596.9" stroke="#3c3e44" stroke-width="0.6"/>
<text x="737.5" y="598.2" font-size="4.00" fill="#cfcfd2" text-anchor="end">9,0</text>
<line x1="744.4" y1="622.2" x2="976.7" y2="622.2" stroke="#3c3e44" stroke-width="0.6"/>
<text x="737.5" y="623.5" font-size="4.00" fill="#cfcfd2" text-anchor="end">7,5</text>
<line x1="744.4" y1="647.1" x2="976.7" y2="647.1" stroke="#3c3e44" stroke-width="0.6"/>
<text x="737.5" y="648.4" font-size="4.00" fill="#cfcfd2" text-anchor="end">6,0</text>
<defs><linearGradient id="g6" x1="0" y1="0" x2="0" y2="1"><stop offset="0" stop-color="#d8660f"/><stop offset="0.55" stop-color="#8a4716" stop-opacity="0.9"/><stop offset="1" stop-color="#2b2a2c" stop-opacity="0.2"/></linearGradient></defs>
<path d="M744.4 647.1 L768.9 644.7 L791.1 642.4 L805.6 641.3 L817.8 634.9 L835.6 626.0 L848.9 618.2 L857.8 609.6 L871.1 599.6 L891.1 588.2 L902.2 584.9 L915.6 580.9 L928.9 578.0 L940.0 575.8 L948.9 574.9 L957.8 573.8 L966.7 571.3 L976.7 568.2 L976.7 647.1 L744.4 647.1 Z" fill="url(#g6)"/>
<path d="M744.4 647.1 L768.9 644.7 L791.1 642.4 L805.6 641.3 L817.8 634.9 L835.6 626.0 L848.9 618.2 L857.8 609.6 L871.1 599.6 L891.1 588.2 L902.2 584.9 L915.6 580.9 L928.9 578.0 L940.0 575.8 L948.9 574.9 L957.8 573.8 L966.7 571.3 L976.7 568.2" fill="none" stroke="#e0701a" stroke-width="0.8" stroke-linejoin="round"/>
<text x="749.6" y="656.9" font-size="3.90" fill="#cfcfd2" text-anchor="middle">0,25</text>
<text x="770.7" y="656.9" font-size="3.90" fill="#cfcfd2" text-anchor="middle">0,50</text>
<text x="791.8" y="656.9" font-size="3.90" fill="#cfcfd2" text-anchor="middle">0,75</text>
<text x="812.2" y="656.9" font-size="3.90" fill="#cfcfd2" text-anchor="middle">1,00</text>
<text x="832.9" y="656.9" font-size="3.90" fill="#cfcfd2" text-anchor="middle">3,00</text>
<text x="854.0" y="656.9" font-size="3.90" fill="#cfcfd2" text-anchor="middle">5,00</text>
<text x="875.6" y="656.9" font-size="3.90" fill="#cfcfd2" text-anchor="middle">7,00</text>
<text x="897.8" y="656.9" font-size="3.90" fill="#cfcfd2" text-anchor="middle">10,00</text>
<text x="921.6" y="656.9" font-size="3.90" fill="#cfcfd2" text-anchor="middle">15,00</text>
<text x="945.6" y="656.9" font-size="3.90" fill="#cfcfd2" text-anchor="middle">20,00</text>
<text x="970.7" y="656.9" font-size="3.90" fill="#cfcfd2" text-anchor="middle">30,00</text>
<text x="846.7" y="667.6" font-size="3.90" fill="#cfcfd2" text-anchor="middle">Срок погашения, годы</text>
<text x="0" y="0" font-size="3.9" fill="#cfcfd2" text-anchor="middle" transform="translate(723.2 596.7) rotate(-90)">Доходность, % годовых</text>
<rect x="1082.9" y="497.3" width="252.7" height="51.6" rx="5" fill="#393c43"/>
<g transform="translate(1095.6 506.7)" fill="none" stroke="#eeeeee" stroke-width="0.85" stroke-linejoin="round"><path d="M2.4 9.6 V5.6 L15.4 0.4 L28.3 5.6 V9.6 Z"/><circle cx="15.4" cy="5.3" r="1.3" stroke="#cfe0f0"/><path d="M4.6 8.0 H6.8 M23.0 8.0 H25.4" stroke-width="0.9"/><rect x="4.0" y="10.4" width="5.6" height="1.5" stroke="#9fb6cc" fill="#5f7488"/><rect x="12.0" y="10.4" width="6.6" height="1.5" stroke="#9fb6cc" fill="#5f7488"/><rect x="21.0" y="10.4" width="5.6" height="1.5" stroke="#9fb6cc" fill="#5f7488"/><rect x="4.6" y="12.2" width="4.4" height="10.6"/><rect x="12.6" y="12.2" width="5.4" height="10.6" fill="#7c7f86"/><rect x="21.6" y="12.2" width="4.4" height="8"/><path d="M6.8 14 V20.8" stroke-width="0.7"/><path d="M0.6 28.4 L2.8 24.6 H19 V28.4 Z" fill="#f47b20" stroke="#f8a060" stroke-width="0.4"/><circle cx="24.1" cy="25.0" r="7.2" fill="#f47b20" stroke="#fff" stroke-width="0.9"/><text x="24.1" y="28.6" font-size="10" fill="#fff" stroke="none" text-anchor="middle">$</text></g>
<text x="1138.4" y="523.4" font-size="9.00" fill="#ffffff" font-weight="bold" textLength="156.7" lengthAdjust="spacingAndGlyphs">Ликвидность банковского сектора</text>
<text x="1138.4" y="531.9" font-size="4.60" textLength="64.0" lengthAdjust="spacingAndGlyphs"><tspan fill="#b8b8bb">Верхняя часть: </tspan><tspan fill="#ffffff" font-weight="bold">дефицит</tspan></text>
<text x="1212.9" y="531.9" font-size="4.60" textLength="65.8" lengthAdjust="spacingAndGlyphs"><tspan fill="#b8b8bb">Нижняя часть: </tspan><tspan fill="#ffffff" font-weight="bold">профицит</tspan></text>
<g transform="translate(1304.4 515.6) scale(1.000)"><path d="M0.2 15.6 L5.6 0.2 L7.6 0.2 L12.9 15.6 L11.2 15.6 L6.6 2.6 L2.3 15.6Z" fill="#fff"/><path d="M11.2 3.2 C10.6 7 9.2 11.5 7.8 15.2 C9.8 14.4 12 13.2 14.2 12" fill="none" stroke="#f47b20" stroke-width="1.6" stroke-linecap="round"/><path d="M4.4 8.8 L12.6 8.8" stroke="#f47b20" stroke-width="1.5" stroke-linecap="round"/></g>
<line x1="1097.3" y1="561.6" x2="1335.6" y2="561.6" stroke="#3d3f45" stroke-width="0.6"/>
<text x="1093.3" y="562.9" font-size="3.90" fill="#d8d8da" text-anchor="end">8 000</text>
<line x1="1097.3" y1="576.5" x2="1335.6" y2="576.5" stroke="#3d3f45" stroke-width="0.6"/>
<text x="1093.3" y="577.8" font-size="3.90" fill="#d8d8da" text-anchor="end">6 000</text>
<line x1="1097.3" y1="591.4" x2="1335.6" y2="591.4" stroke="#3d3f45" stroke-width="0.6"/>
<text x="1093.3" y="592.7" font-size="3.90" fill="#d8d8da" text-anchor="end">4 000</text>
<line x1="1097.3" y1="606.2" x2="1335.6" y2="606.2" stroke="#3d3f45" stroke-width="0.6"/>
<text x="1093.3" y="607.5" font-size="3.90" fill="#d8d8da" text-anchor="end">2 000</text>
<line x1="1097.3" y1="621.1" x2="1335.6" y2="621.1" stroke="#3d3f45" stroke-width="0.6"/>
<text x="1093.3" y="622.4" font-size="3.90" fill="#d8d8da" text-anchor="end">0</text>
<line x1="1097.3" y1="636.0" x2="1335.6" y2="636.0" stroke="#3d3f45" stroke-width="0.6"/>
<text x="1093.3" y="637.3" font-size="3.90" fill="#d8d8da" text-anchor="end">-2 000</text>
<line x1="1097.3" y1="650.9" x2="1335.6" y2="650.9" stroke="#3d3f45" stroke-width="0.6"/>
<text x="1093.3" y="652.2" font-size="3.90" fill="#d8d8da" text-anchor="end">-4 000</text>
<line x1="1097.3" y1="561.6" x2="1097.3" y2="650.9" stroke="#3d3f45" stroke-width="0.5"/>
<line x1="1114.0" y1="561.6" x2="1114.0" y2="650.9" stroke="#3d3f45" stroke-width="0.5"/>
<line x1="1130.7" y1="561.6" x2="1130.7" y2="650.9" stroke="#3d3f45" stroke-width="0.5"/>
<line x1="1147.4" y1="561.6" x2="1147.4" y2="650.9" stroke="#3d3f45" stroke-width="0.5"/>
<line x1="1164.1" y1="561.6" x2="1164.1" y2="650.9" stroke="#3d3f45" stroke-width="0.5"/>
<line x1="1180.8" y1="561.6" x2="1180.8" y2="650.9" stroke="#3d3f45" stroke-width="0.5"/>
<line x1="1197.5" y1="561.6" x2="1197.5" y2="650.9" stroke="#3d3f45" stroke-width="0.5"/>
<line x1="1214.2" y1="561.6" x2="1214.2" y2="650.9" stroke="#3d3f45" stroke-width="0.5"/>
<line x1="1230.9" y1="561.6" x2="1230.9" y2="650.9" stroke="#3d3f45" stroke-width="0.5"/>
<line x1="1247.6" y1="561.6" x2="1247.6" y2="650.9" stroke="#3d3f45" stroke-width="0.5"/>
<line x1="1264.3" y1="561.6" x2="1264.3" y2="650.9" stroke="#3d3f45" stroke-width="0.5"/>
<line x1="1281.0" y1="561.6" x2="1281.0" y2="650.9" stroke="#3d3f45" stroke-width="0.5"/>
<line x1="1297.7" y1="561.6" x2="1297.7" y2="650.9" stroke="#3d3f45" stroke-width="0.5"/>
<line x1="1314.4" y1="561.6" x2="1314.4" y2="650.9" stroke="#3d3f45" stroke-width="0.5"/>
<line x1="1331.1" y1="561.6" x2="1331.1" y2="650.9" stroke="#3d3f45" stroke-width="0.5"/>
<path d="M1097.60 621.13h1.05v15.76h-1.05ZM1099.32 621.13h1.05v13.32h-1.05ZM1101.04 621.13h1.05v14.76h-1.05ZM1102.76 621.13h1.05v29.30h-1.05ZM1104.48 621.13h1.05v29.30h-1.05ZM1106.20 621.13h1.05v14.74h-1.05ZM1107.92 621.13h1.05v14.97h-1.05ZM1109.64 621.13h1.05v14.97h-1.05ZM1111.36 621.13h1.05v12.84h-1.05ZM1113.08 621.13h1.05v10.89h-1.05ZM1114.80 621.13h1.05v11.12h-1.05ZM1116.52 621.13h1.05v11.11h-1.05ZM1118.24 621.13h1.05v16.93h-1.05ZM1119.96 621.13h1.05v16.93h-1.05ZM1121.68 621.13h1.05v9.84h-1.05ZM1123.40 621.13h1.05v8.81h-1.05ZM1125.12 621.13h1.05v7.73h-1.05ZM1126.84 621.13h1.05v7.63h-1.05ZM1128.56 621.13h1.05v6.66h-1.05ZM1130.28 621.13h1.05v5.75h-1.05ZM1132.00 621.13h1.05v5.68h-1.05ZM1133.72 621.13h1.05v7.20h-1.05ZM1135.44 621.13h1.05v7.64h-1.05ZM1137.16 621.13h1.05v15.62h-1.05ZM1138.88 621.13h1.05v15.62h-1.05ZM1140.60 621.13h1.05v8.02h-1.05ZM1142.32 621.13h1.05v6.73h-1.05ZM1144.04 621.13h1.05v7.35h-1.05ZM1145.76 621.13h1.05v9.73h-1.05ZM1147.48 621.13h1.05v9.17h-1.05ZM1149.20 621.13h1.05v9.77h-1.05ZM1150.92 621.13h1.05v10.23h-1.05ZM1152.64 621.13h1.05v9.56h-1.05ZM1154.36 621.13h1.05v9.43h-1.05ZM1156.08 621.13h1.05v9.32h-1.05ZM1157.80 621.13h1.05v8.43h-1.05ZM1159.52 621.13h1.05v8.69h-1.05ZM1161.24 621.13h1.05v8.25h-1.05ZM1162.96 621.13h1.05v7.45h-1.05ZM1164.68 621.13h1.05v7.30h-1.05ZM1166.40 621.13h1.05v8.50h-1.05ZM1168.12 621.13h1.05v14.32h-1.05ZM1169.84 621.13h1.05v14.32h-1.05ZM1171.56 621.13h1.05v4.98h-1.05ZM1173.28 613.56h1.05v7.57h-1.05ZM1175.00 586.63h1.05v34.51h-1.05ZM1176.72 607.40h1.05v13.74h-1.05ZM1178.44 621.13h1.05v7.40h-1.05ZM1180.16 621.13h1.05v8.01h-1.05ZM1181.88 621.13h1.05v9.04h-1.05ZM1183.60 621.13h1.05v14.97h-1.05ZM1185.32 621.13h1.05v14.97h-1.05ZM1187.04 570.35h1.05v50.78h-1.05ZM1188.76 570.35h1.05v50.78h-1.05ZM1190.48 621.13h1.05v4.61h-1.05ZM1192.20 621.13h1.05v3.64h-1.05ZM1193.92 616.19h1.05v4.94h-1.05ZM1195.64 615.33h1.05v5.81h-1.05ZM1197.36 619.20h1.05v1.94h-1.05ZM1199.08 617.86h1.05v3.27h-1.05ZM1200.80 617.63h1.05v3.50h-1.05ZM1202.52 621.13h1.05v6.42h-1.05ZM1204.24 562.54h1.05v58.59h-1.05ZM1205.96 564.10h1.05v57.03h-1.05ZM1207.68 564.10h1.05v57.03h-1.05ZM1209.40 621.13h1.05v8.15h-1.05ZM1211.12 621.13h1.05v8.65h-1.05ZM1212.84 621.13h1.05v9.48h-1.05ZM1214.56 621.13h1.05v9.44h-1.05ZM1216.28 621.13h1.05v11.33h-1.05ZM1218.00 621.13h1.05v14.32h-1.05ZM1219.72 575.56h1.05v45.57h-1.05ZM1221.44 575.56h1.05v45.57h-1.05ZM1223.16 595.53h1.05v25.60h-1.05ZM1224.88 608.16h1.05v12.97h-1.05ZM1226.60 609.79h1.05v11.35h-1.05ZM1228.32 610.85h1.05v10.28h-1.05ZM1230.04 614.73h1.05v6.40h-1.05ZM1231.76 621.13h1.05v6.43h-1.05ZM1233.48 621.13h1.05v9.71h-1.05ZM1235.20 621.13h1.05v9.46h-1.05ZM1236.92 613.48h1.05v7.65h-1.05ZM1238.64 614.01h1.05v7.13h-1.05ZM1240.36 613.88h1.05v7.26h-1.05ZM1242.08 614.59h1.05v6.54h-1.05ZM1243.80 613.26h1.05v7.87h-1.05ZM1245.52 611.53h1.05v9.60h-1.05ZM1247.24 610.78h1.05v10.35h-1.05ZM1248.96 610.99h1.05v10.14h-1.05ZM1250.68 612.96h1.05v8.18h-1.05ZM1252.40 617.43h1.05v3.71h-1.05ZM1254.12 617.97h1.05v3.16h-1.05ZM1255.84 621.13h1.05v3.92h-1.05ZM1257.56 621.13h1.05v6.98h-1.05ZM1259.28 621.13h1.05v8.54h-1.05ZM1261.00 621.13h1.05v10.65h-1.05ZM1262.72 621.13h1.05v10.94h-1.05ZM1267.88 621.13h1.05v9.43h-1.05ZM1269.60 621.13h1.05v12.24h-1.05ZM1271.32 621.13h1.05v13.27h-1.05ZM1273.04 621.13h1.05v13.84h-1.05ZM1274.76 621.13h1.05v14.32h-1.05ZM1276.48 621.13h1.05v14.32h-1.05ZM1278.20 621.13h1.05v14.07h-1.05ZM1279.92 621.13h1.05v13.86h-1.05ZM1281.64 621.13h1.05v13.67h-1.05ZM1283.36 621.13h1.05v13.35h-1.05ZM1285.08 621.13h1.05v13.06h-1.05ZM1286.80 621.13h1.05v12.65h-1.05ZM1288.52 621.13h1.05v12.22h-1.05ZM1290.24 621.13h1.05v11.72h-1.05ZM1291.96 621.13h1.05v11.42h-1.05ZM1293.68 621.13h1.05v11.30h-1.05ZM1295.40 621.13h1.05v10.22h-1.05ZM1297.12 621.13h1.05v9.93h-1.05ZM1298.84 621.13h1.05v8.41h-1.05ZM1300.56 621.13h1.05v10.48h-1.05ZM1302.28 621.13h1.05v11.16h-1.05ZM1304.00 621.13h1.05v11.37h-1.05ZM1305.72 621.13h1.05v11.16h-1.05ZM1307.44 621.13h1.05v10.18h-1.05ZM1309.16 621.13h1.05v10.24h-1.05ZM1310.88 621.13h1.05v10.69h-1.05ZM1312.60 621.13h1.05v9.80h-1.05ZM1314.32 621.13h1.05v10.39h-1.05ZM1316.04 621.13h1.05v9.96h-1.05ZM1317.76 621.13h1.05v9.24h-1.05ZM1319.48 621.13h1.05v9.35h-1.05ZM1321.20 621.13h1.05v9.86h-1.05ZM1322.92 621.13h1.05v8.65h-1.05ZM1324.64 621.13h1.05v9.46h-1.05ZM1326.36 621.13h1.05v9.16h-1.05ZM1328.08 621.13h1.05v8.32h-1.05ZM1329.80 621.13h1.05v8.67h-1.05ZM1331.52 621.13h1.05v8.27h-1.05ZM1333.24 621.13h1.05v8.88h-1.05ZM1334.96 621.13h1.05v8.96h-1.05Z" fill="#fb7e1b"/>
<text x="0" y="0" font-size="4.3" fill="#d8d8db" text-anchor="end" transform="translate(1099.8 658) rotate(-45)">03.03.23</text>
<text x="0" y="0" font-size="4.3" fill="#d8d8db" text-anchor="end" transform="translate(1116.4 658) rotate(-45)">03.04.23</text>
<text x="0" y="0" font-size="4.3" fill="#d8d8db" text-anchor="end" transform="translate(1133.1 658) rotate(-45)">03.05.23</text>
<text x="0" y="0" font-size="4.3" fill="#d8d8db" text-anchor="end" transform="translate(1150.4 658) rotate(-45)">03.06.23</text>
<text x="0" y="0" font-size="4.3" fill="#d8d8db" text-anchor="end" transform="translate(1166.4 658) rotate(-45)">03.07.23</text>
<text x="0" y="0" font-size="4.3" fill="#d8d8db" text-anchor="end" transform="translate(1183.6 658) rotate(-45)">03.08.23</text>
<text x="0" y="0" font-size="4.3" fill="#d8d8db" text-anchor="end" transform="translate(1200.2 658) rotate(-45)">03.09.23</text>
<text x="0" y="0" font-size="4.3" fill="#d8d8db" text-anchor="end" transform="translate(1216.9 658) rotate(-45)">03.10.23</text>
<text x="0" y="0" font-size="4.3" fill="#d8d8db" text-anchor="end" transform="translate(1233.6 658) rotate(-45)">03.11.23</text>
<text x="0" y="0" font-size="4.3" fill="#d8d8db" text-anchor="end" transform="translate(1250.4 658) rotate(-45)">03.12.23</text>
<text x="0" y="0" font-size="4.3" fill="#d8d8db" text-anchor="end" transform="translate(1267.6 658) rotate(-45)">03.01.24</text>
<text x="0" y="0" font-size="4.3" fill="#d8d8db" text-anchor="end" transform="translate(1285.3 658) rotate(-45)">03.02.24</text>
<text x="0" y="0" font-size="4.3" fill="#d8d8db" text-anchor="end" transform="translate(1302.0 658) rotate(-45)">03.03.24</text>
<text x="0" y="0" font-size="4.3" fill="#d8d8db" text-anchor="end" transform="translate(1318.7 658) rotate(-45)">03.04.24</text>
<text x="0" y="0" font-size="4.3" fill="#d8d8db" text-anchor="end" transform="translate(1335.3 658) rotate(-45)">03.05.24</text>
<rect x="1444.0" y="497.8" width="252.0" height="51.1" rx="5" fill="#393c43"/>
<g transform="translate(1455.6 507.3)"><circle cx="7.1" cy="6.3" r="6.2" fill="#393c43" stroke="#24262b" stroke-width="0.9"/><text x="7.1" y="9.3" font-size="8.4" fill="#f4f4f4" text-anchor="middle" font-weight="bold">$</text><path d="M3.6 12.4 L2.0 14.0" stroke="#24262b" stroke-width="0.9"/><circle cx="26.1" cy="6.3" r="6.2" fill="#f47b20" stroke="#24262b" stroke-width="0.9"/><text x="26.1" y="9.3" font-size="8.4" fill="#24262b" text-anchor="middle">$</text><path d="M15.8 10.2 L16.8 12.0 L17.8 10.2" stroke="#24262b" stroke-width="0.8" fill="none"/><path d="M0.8 16.2 H32.0 M30.3 14.2 Q32.2 15.2 32.2 16.2 M0.8 16.2 L2.6 17.8 M22.0 18.6 L24.5 20.2 L22.0 21.8" stroke="#24262b" stroke-width="0.95" fill="none"/><line x1="2.4" y1="21.3" x2="13.4" y2="21.3" stroke="#f47b20" stroke-width="1.25" stroke-dasharray="1.3 0.7" stroke-dashoffset="0.0"/><line x1="1.2" y1="23.3" x2="14.4" y2="23.3" stroke="#f47b20" stroke-width="1.25" stroke-dasharray="1.3 0.7" stroke-dashoffset="1.0"/><line x1="2.4" y1="25.3" x2="13.4" y2="25.3" stroke="#f47b20" stroke-width="1.25" stroke-dasharray="1.3 0.7" stroke-dashoffset="0.0"/><line x1="1.2" y1="27.3" x2="14.4" y2="27.3" stroke="#f47b20" stroke-width="1.25" stroke-dasharray="1.3 0.7" stroke-dashoffset="1.0"/><line x1="2.4" y1="29.3" x2="13.4" y2="29.3" stroke="#f47b20" stroke-width="1.25" stroke-dasharray="1.3 0.7" stroke-dashoffset="0.0"/><line x1="1.2" y1="31.3" x2="14.4" y2="31.3" stroke="#f47b20" stroke-width="1.25" stroke-dasharray="1.3 0.7" stroke-dashoffset="1.0"/><circle cx="26.1" cy="25.6" r="6.2" fill="#f47b20" stroke="#24262b" stroke-width="0.9"/><text x="26.1" y="28.6" font-size="8.4" fill="#24262b" text-anchor="middle">$</text></g>
<text x="1498.9" y="517.3" font-size="8.40" fill="#ffffff" font-weight="bold" textLength="154.4" lengthAdjust="spacingAndGlyphs">Фонды денежного рынка обеспечили</text>
<text x="1498.9" y="526.2" font-size="8.40" fill="#ffffff" font-weight="bold" textLength="123.6" lengthAdjust="spacingAndGlyphs">&gt;95% чистого притока в ОПИФ</text>
<text x="1498.9" y="535.1" font-size="8.40" fill="#ffffff" font-weight="bold" textLength="134.4" lengthAdjust="spacingAndGlyphs">и БПИФ за последние 12 месяцев</text>
<g transform="translate(1664.4 515.6) scale(1.000)"><path d="M0.2 15.6 L5.6 0.2 L7.6 0.2 L12.9 15.6 L11.2 15.6 L6.6 2.6 L2.3 15.6Z" fill="#fff"/><path d="M11.2 3.2 C10.6 7 9.2 11.5 7.8 15.2 C9.8 14.4 12 13.2 14.2 12" fill="none" stroke="#f47b20" stroke-width="1.6" stroke-linecap="round"/><path d="M4.4 8.8 L12.6 8.8" stroke="#f47b20" stroke-width="1.5" stroke-linecap="round"/></g>
<path d="M1496.19 592.55 A32.80 32.80 0 0 1 1496.19 644.25 L1489.05 635.11 A21.20 21.20 0 0 0 1489.05 601.69 Z" fill="#404349"/>
<path d="M1496.19 644.25 A32.80 32.80 0 1 1 1496.19 592.55 L1489.05 601.69 A21.20 21.20 0 1 0 1489.05 635.11 Z" fill="#f57d1f"/>
<text x="1476.0" y="581.6" font-size="4.00" fill="#d8d8da" text-anchor="middle">1кв. 2023</text>
<text x="1516.0" y="619.8" font-size="4.00" fill="#d8d8da" text-anchor="middle">25%</text>
<line x1="1495.6" y1="591.8" x2="1532.2" y2="593.8" stroke="#8a8c90" stroke-width="0.5"/>
<line x1="1495.6" y1="644.6" x2="1532.2" y2="641.8" stroke="#8a8c90" stroke-width="0.5"/>
<rect x="1532.2" y="593.8" width="24.5" height="32.9" rx="0" fill="#f57d1f"/>
<rect x="1532.2" y="626.7" width="24.5" height="15.1" rx="0" fill="#0b0b0c"/>
<text x="1544.4" y="611.5" font-size="3.20" fill="#fde3cc" text-anchor="middle">ОДП 20%</text>
<text x="1544.4" y="635.5" font-size="3.20" fill="#e0e0e0" text-anchor="middle">ЗПИФ 5%</text>
<path d="M1596.90 589.99 A32.80 32.80 0 1 1 1592.22 643.53 L1599.67 634.64 A21.20 21.20 0 1 0 1602.70 600.04 Z" fill="#404349"/>
<path d="M1592.22 643.53 A32.80 32.80 0 0 1 1596.90 589.99 L1602.70 600.04 A21.20 21.20 0 0 0 1599.67 634.64 Z" fill="#f57d1f"/>
<text x="1613.3" y="580.9" font-size="4.00" fill="#d8d8da" text-anchor="middle">1кв. 2024</text>
<text x="1655.6" y="619.8" font-size="4.00" fill="#d8d8da" text-anchor="middle">87.7%</text>
<line x1="1625.6" y1="586.2" x2="1671.1" y2="592.9" stroke="#8a8c90" stroke-width="0.5"/>
<line x1="1625.6" y1="650.6" x2="1671.1" y2="642.9" stroke="#8a8c90" stroke-width="0.5"/>
<rect x="1671.1" y="592.9" width="24.9" height="30.0" rx="0" fill="#f57d1f"/>
<rect x="1671.1" y="622.9" width="24.9" height="8.9" rx="0" fill="#0b0b0c"/>
<rect x="1671.1" y="632.9" width="24.9" height="10.0" rx="0" fill="#404349"/>
<text x="1683.5" y="609.0" font-size="3.20" fill="#fde3cc" text-anchor="middle">ОДП 40.7%</text>
<text x="1683.5" y="628.4" font-size="3.00" fill="#e0e0e0" text-anchor="middle">ЗПИФ 15.4%</text>
<text x="1683.5" y="639.0" font-size="3.00" fill="#e0e0e0" text-anchor="middle">БПИФ 12.6%</text>
<g transform="translate(621.0 736.6) scale(1.000)"><path d="M0.2 15.6 L5.6 0.2 L7.6 0.2 L12.9 15.6 L11.2 15.6 L6.6 2.6 L2.3 15.6Z" fill="#fff"/><path d="M11.2 3.2 C10.6 7 9.2 11.5 7.8 15.2 C9.8 14.4 12 13.2 14.2 12" fill="none" stroke="#f47b20" stroke-width="1.6" stroke-linecap="round"/><path d="M4.4 8.8 L12.6 8.8" stroke="#f47b20" stroke-width="1.5" stroke-linecap="round"/></g>
<text x="357.8" y="751.9" font-size="9.70" fill="#ffffff" font-weight="bold" textLength="228.2" lengthAdjust="spacingAndGlyphs">Объем размещения выпуска 26242 по номиналу</text>
<line x1="377.8" y1="777.2" x2="624.4" y2="777.2" stroke="#3c3e44" stroke-width="0.6"/>
<text x="374.0" y="778.5" font-size="3.80" fill="#cfcfd2" text-anchor="end">70 000</text>
<line x1="377.8" y1="795.9" x2="624.4" y2="795.9" stroke="#3c3e44" stroke-width="0.6"/>
<text x="374.0" y="797.2" font-size="3.80" fill="#cfcfd2" text-anchor="end">60 000</text>
<line x1="377.8" y1="814.7" x2="624.4" y2="814.7" stroke="#3c3e44" stroke-width="0.6"/>
<text x="374.0" y="816.0" font-size="3.80" fill="#cfcfd2" text-anchor="end">50 000</text>
<line x1="377.8" y1="833.4" x2="624.4" y2="833.4" stroke="#3c3e44" stroke-width="0.6"/>
<text x="374.0" y="834.7" font-size="3.80" fill="#cfcfd2" text-anchor="end">40 000</text>
<line x1="377.8" y1="852.1" x2="624.4" y2="852.1" stroke="#3c3e44" stroke-width="0.6"/>
<text x="374.0" y="853.4" font-size="3.80" fill="#cfcfd2" text-anchor="end">30 000</text>
<line x1="377.8" y1="870.8" x2="624.4" y2="870.8" stroke="#3c3e44" stroke-width="0.6"/>
<text x="374.0" y="872.1" font-size="3.80" fill="#cfcfd2" text-anchor="end">20 000</text>
<line x1="377.8" y1="889.6" x2="624.4" y2="889.6" stroke="#3c3e44" stroke-width="0.6"/>
<text x="374.0" y="890.9" font-size="3.80" fill="#cfcfd2" text-anchor="end">10 000</text>
<line x1="377.8" y1="908.3" x2="624.4" y2="908.3" stroke="#3c3e44" stroke-width="0.6"/>
<text x="374.0" y="909.6" font-size="3.80" fill="#cfcfd2" text-anchor="end">0</text>
<text x="0" y="0" font-size="3.8" fill="#bfbfc2" text-anchor="middle" transform="translate(352.3 837) rotate(-90)">млн руб.</text>
<defs><linearGradient id="g9" x1="0" y1="0" x2="0" y2="1"><stop offset="0" stop-color="#f47a1e"/><stop offset="0.55" stop-color="#a8541b"/><stop offset="1" stop-color="#3a2a22"/></linearGradient><linearGradient id="g9b" gradientUnits="userSpaceOnUse" x1="0" y1="777" x2="0" y2="908"><stop offset="0" stop-color="#f47a1e"/><stop offset="0.6" stop-color="#a4521c"/><stop offset="1" stop-color="#33282a"/></linearGradient></defs>
<path d="M386.5 896.3h7.8V908.3h-7.8Z" fill="url(#g9)"/>
<text x="390.4" y="894.1" font-size="3.80" fill="#ffffff" font-weight="bold" text-anchor="middle">6 409</text>
<text x="0" y="0" font-size="3.8" fill="#cfcfd2" text-anchor="end" transform="translate(392.9 913) rotate(-45)">25.01.23</text>
<path d="M411.2 894.4h7.8V908.3h-7.8Z" fill="url(#g9)"/>
<text x="415.1" y="892.2" font-size="3.80" fill="#ffffff" font-weight="bold" text-anchor="middle">7 436</text>
<text x="0" y="0" font-size="3.8" fill="#cfcfd2" text-anchor="end" transform="translate(417.6 913) rotate(-45)">08.02.23</text>
<path d="M435.9 894.7h7.8V908.3h-7.8Z" fill="url(#g9)"/>
<text x="439.8" y="892.5" font-size="3.80" fill="#ffffff" font-weight="bold" text-anchor="middle">7 253</text>
<text x="0" y="0" font-size="3.8" fill="#cfcfd2" text-anchor="end" transform="translate(442.3 913) rotate(-45)">22.02.23</text>
<path d="M460.5 879.6h7.8V908.3h-7.8Z" fill="url(#g9)"/>
<text x="464.4" y="877.4" font-size="3.80" fill="#ffffff" font-weight="bold" text-anchor="middle">15 333</text>
<text x="0" y="0" font-size="3.8" fill="#cfcfd2" text-anchor="end" transform="translate(466.9 913) rotate(-45)">22.03.23</text>
<path d="M485.2 776.0h7.8V908.3h-7.8Z" fill="url(#g9)"/>
<text x="489.1" y="773.8" font-size="3.80" fill="#ffffff" font-weight="bold" text-anchor="middle">70 640</text>
<text x="0" y="0" font-size="3.8" fill="#cfcfd2" text-anchor="end" transform="translate(491.6 913) rotate(-45)">05.04.23</text>
<path d="M510.1 841.9h7.8V908.3h-7.8Z" fill="url(#g9)"/>
<text x="514.0" y="839.7" font-size="3.80" fill="#ffffff" font-weight="bold" text-anchor="middle">35 445</text>
<text x="0" y="0" font-size="3.8" fill="#cfcfd2" text-anchor="end" transform="translate(516.5 913) rotate(-45)">19.04.23</text>
<path d="M534.8 796.7h7.8V908.3h-7.8Z" fill="url(#g9)"/>
<text x="538.7" y="794.5" font-size="3.80" fill="#ffffff" font-weight="bold" text-anchor="middle">59 566</text>
<text x="0" y="0" font-size="3.8" fill="#cfcfd2" text-anchor="end" transform="translate(541.2 913) rotate(-45)">24.05.23</text>
<path d="M559.4 860.9h7.8V908.3h-7.8Z" fill="url(#g9)"/>
<text x="563.3" y="858.7" font-size="3.80" fill="#ffffff" font-weight="bold" text-anchor="middle">25 335</text>
<text x="0" y="0" font-size="3.8" fill="#cfcfd2" text-anchor="end" transform="translate(565.8 913) rotate(-45)">07.06.23</text>
<path d="M584.3 876.8h7.8V908.3h-7.8Z" fill="url(#g9)"/>
<text x="588.2" y="874.6" font-size="3.80" fill="#ffffff" font-weight="bold" text-anchor="middle">16 844</text>
<text x="0" y="0" font-size="3.8" fill="#cfcfd2" text-anchor="end" transform="translate(590.7 913) rotate(-45)">21.06.23</text>
<path d="M608.8 805.7h7.8V908.3h-7.8Z" fill="url(#g9)"/>
<text x="612.7" y="803.5" font-size="3.80" fill="#ffffff" font-weight="bold" text-anchor="middle">54 759</text>
<text x="0" y="0" font-size="3.8" fill="#cfcfd2" text-anchor="end" transform="translate(615.2 913) rotate(-45)">03.04.24</text>
<g transform="translate(981.0 732.8) scale(1.000)"><path d="M0.2 15.6 L5.6 0.2 L7.6 0.2 L12.9 15.6 L11.2 15.6 L6.6 2.6 L2.3 15.6Z" fill="#fff"/><path d="M11.2 3.2 C10.6 7 9.2 11.5 7.8 15.2 C9.8 14.4 12 13.2 14.2 12" fill="none" stroke="#f47b20" stroke-width="1.6" stroke-linecap="round"/><path d="M4.4 8.8 L12.6 8.8" stroke="#f47b20" stroke-width="1.5" stroke-linecap="round"/></g>
<line x1="847.1" y1="750.6" x2="847.1" y2="911.7" stroke="#3a3c42" stroke-width="0.6"/>
<line x1="718.2" y1="831.0" x2="975.6" y2="831.0" stroke="#3a3c42" stroke-width="0.6"/>
<line x1="736.7" y1="771.7" x2="736.7" y2="815.4" stroke="#3b3d43" stroke-width="0.5"/>
<line x1="744.0" y1="771.7" x2="744.0" y2="815.4" stroke="#3b3d43" stroke-width="0.5"/>
<line x1="751.4" y1="771.7" x2="751.4" y2="815.4" stroke="#3b3d43" stroke-width="0.5"/>
<line x1="758.7" y1="771.7" x2="758.7" y2="815.4" stroke="#3b3d43" stroke-width="0.5"/>
<line x1="766.0" y1="771.7" x2="766.0" y2="815.4" stroke="#3b3d43" stroke-width="0.5"/>
<line x1="773.4" y1="771.7" x2="773.4" y2="815.4" stroke="#3b3d43" stroke-width="0.5"/>
<line x1="780.7" y1="771.7" x2="780.7" y2="815.4" stroke="#3b3d43" stroke-width="0.5"/>
<line x1="788.0" y1="771.7" x2="788.0" y2="815.4" stroke="#3b3d43" stroke-width="0.5"/>
<line x1="795.3" y1="771.7" x2="795.3" y2="815.4" stroke="#3b3d43" stroke-width="0.5"/>
<line x1="802.7" y1="771.7" x2="802.7" y2="815.4" stroke="#3b3d43" stroke-width="0.5"/>
<line x1="810.0" y1="771.7" x2="810.0" y2="815.4" stroke="#3b3d43" stroke-width="0.5"/>
<line x1="736.7" y1="771.7" x2="810.0" y2="771.7" stroke="#3b3d43" stroke-width="0.5"/>
<line x1="736.7" y1="779.5" x2="810.0" y2="779.5" stroke="#3b3d43" stroke-width="0.5"/>
<line x1="736.7" y1="787.3" x2="810.0" y2="787.3" stroke="#3b3d43" stroke-width="0.5"/>
<line x1="736.7" y1="795.1" x2="810.0" y2="795.1" stroke="#3b3d43" stroke-width="0.5"/>
<line x1="736.7" y1="802.9" x2="810.0" y2="802.9" stroke="#3b3d43" stroke-width="0.5"/>
<line x1="736.7" y1="810.7" x2="810.0" y2="810.7" stroke="#3b3d43" stroke-width="0.5"/>
<path d="M728.9 759.6 V815.4 H821.3" fill="none" stroke="#e0e0e0" stroke-width="0.7"/>
<path d="M727.3 761.6 L728.9 759.6 L730.5 761.6" fill="none" stroke="#e0e0e0" stroke-width="0.7"/>
<path d="M819.3 813.8 L821.3 815.4 L819.3 817.0" fill="none" stroke="#e0e0e0" stroke-width="0.7"/>
<text x="725.8" y="773.4" font-size="3.90" fill="#cfcfd2" text-anchor="end">7,0</text>
<text x="725.8" y="781.2" font-size="3.90" fill="#cfcfd2" text-anchor="end">6,5</text>
<text x="725.8" y="789.0" font-size="3.90" fill="#cfcfd2" text-anchor="end">6,0</text>
<text x="725.8" y="796.7" font-size="3.90" fill="#cfcfd2" text-anchor="end">5,5</text>
<text x="725.8" y="804.5" font-size="3.90" fill="#cfcfd2" text-anchor="end">5,0</text>
<text x="736.7" y="823.5" font-size="3.90" fill="#cfcfd2" text-anchor="middle">1</text>
<text x="751.6" y="823.5" font-size="3.90" fill="#cfcfd2" text-anchor="middle">3</text>
<text x="760.4" y="823.5" font-size="3.90" fill="#cfcfd2" text-anchor="middle">5</text>
<text x="780.7" y="823.5" font-size="3.90" fill="#cfcfd2" text-anchor="middle">10</text>
<text x="801.6" y="823.5" font-size="3.90" fill="#cfcfd2" text-anchor="middle">15</text>
<text x="817.5" y="823.5" font-size="3.90" fill="#cfcfd2">Лет</text>
<text x="817.2" y="806.0" font-size="3.70" fill="#cfcfd2">Время до</text>
<text x="817.2" y="810.8" font-size="3.70" fill="#cfcfd2">погашения</text>
<text x="726.0" y="753.4" font-size="3.70" fill="#cfcfd2">Доходность, %</text>
<text x="817.8" y="754.6" font-size="5.00" fill="#ffffff" font-weight="bold" text-anchor="end">1. Нормальная</text>
<path d="M737.3 808.8 C738.9 807.4 743.3 803.2 746.7 800.6 C750.1 797.9 754.1 795.3 757.8 792.8 C761.5 790.3 765.2 787.8 768.9 785.7 C772.6 783.5 776.3 781.6 780.0 779.9 C783.7 778.2 787.8 776.6 791.1 775.4 C794.4 774.3 797.2 773.4 800.0 772.8 C802.8 772.2 806.5 772.0 807.8 771.9" fill="none" stroke="#e0701c" stroke-width="0.9"/>
<line x1="870.5" y1="771.7" x2="870.5" y2="815.4" stroke="#3b3d43" stroke-width="0.5"/>
<line x1="877.8" y1="771.7" x2="877.8" y2="815.4" stroke="#3b3d43" stroke-width="0.5"/>
<line x1="885.2" y1="771.7" x2="885.2" y2="815.4" stroke="#3b3d43" stroke-width="0.5"/>
<line x1="892.5" y1="771.7" x2="892.5" y2="815.4" stroke="#3b3d43" stroke-width="0.5"/>
<line x1="899.8" y1="771.7" x2="899.8" y2="815.4" stroke="#3b3d43" stroke-width="0.5"/>
<line x1="907.1" y1="771.7" x2="907.1" y2="815.4" stroke="#3b3d43" stroke-width="0.5"/>
<line x1="914.5" y1="771.7" x2="914.5" y2="815.4" stroke="#3b3d43" stroke-width="0.5"/>
<line x1="921.8" y1="771.7" x2="921.8" y2="815.4" stroke="#3b3d43" stroke-width="0.5"/>
<line x1="929.1" y1="771.7" x2="929.1" y2="815.4" stroke="#3b3d43" stroke-width="0.5"/>
<line x1="936.5" y1="771.7" x2="936.5" y2="815.4" stroke="#3b3d43" stroke-width="0.5"/>
<line x1="943.8" y1="771.7" x2="943.8" y2="815.4" stroke="#3b3d43" stroke-width="0.5"/>
<line x1="870.5" y1="771.7" x2="943.8" y2="771.7" stroke="#3b3d43" stroke-width="0.5"/>
<line x1="870.5" y1="779.5" x2="943.8" y2="779.5" stroke="#3b3d43" stroke-width="0.5"/>
<line x1="870.5" y1="787.3" x2="943.8" y2="787.3" stroke="#3b3d43" stroke-width="0.5"/>
<line x1="870.5" y1="795.1" x2="943.8" y2="795.1" stroke="#3b3d43" stroke-width="0.5"/>
<line x1="870.5" y1="802.9" x2="943.8" y2="802.9" stroke="#3b3d43" stroke-width="0.5"/>
<line x1="870.5" y1="810.7" x2="943.8" y2="810.7" stroke="#3b3d43" stroke-width="0.5"/>
<path d="M862.7 759.6 V815.4 H955.1" fill="none" stroke="#e0e0e0" stroke-width="0.7"/>
<path d="M861.1 761.6 L862.7 759.6 L864.3 761.6" fill="none" stroke="#e0e0e0" stroke-width="0.7"/>
<path d="M953.1 813.8 L955.1 815.4 L953.1 817.0" fill="none" stroke="#e0e0e0" stroke-width="0.7"/>
<text x="859.6" y="773.4" font-size="3.90" fill="#cfcfd2" text-anchor="end">7,0</text>
<text x="859.6" y="781.2" font-size="3.90" fill="#cfcfd2" text-anchor="end">6,5</text>
<text x="859.6" y="789.0" font-size="3.90" fill="#cfcfd2" text-anchor="end">6,0</text>
<text x="859.6" y="796.7" font-size="3.90" fill="#cfcfd2" text-anchor="end">5,5</text>
<text x="859.6" y="804.5" font-size="3.90" fill="#cfcfd2" text-anchor="end">5,0</text>
<text x="870.5" y="823.5" font-size="3.90" fill="#cfcfd2" text-anchor="middle">1</text>
<text x="885.4" y="823.5" font-size="3.90" fill="#cfcfd2" text-anchor="middle">3</text>
<text x="894.2" y="823.5" font-size="3.90" fill="#cfcfd2" text-anchor="middle">5</text>
<text x="914.5" y="823.5" font-size="3.90" fill="#cfcfd2" text-anchor="middle">10</text>
<text x="935.4" y="823.5" font-size="3.90" fill="#cfcfd2" text-anchor="middle">15</text>
<text x="951.3" y="823.5" font-size="3.90" fill="#cfcfd2">Лет</text>
<text x="951.0" y="806.0" font-size="3.70" fill="#cfcfd2">Время до</text>
<text x="951.0" y="810.8" font-size="3.70" fill="#cfcfd2">погашения</text>
<text x="859.8" y="753.4" font-size="3.70" fill="#cfcfd2">Доходность, %</text>
<text x="951.6" y="754.6" font-size="5.00" fill="#ffffff" font-weight="bold" text-anchor="end">2. Плоская</text>
<path d="M870.0 805.7 C870.4 805.1 871.1 803.1 872.2 802.1 C873.3 801.1 874.6 800.4 876.7 799.9 C878.7 799.4 880.2 799.1 884.4 799.0 C888.7 798.9 895.6 799.0 902.2 799.0 C908.9 799.0 917.7 799.0 924.4 799.0 C931.2 799.0 939.8 799.0 942.9 799.0" fill="none" stroke="#e0701c" stroke-width="0.9"/>
<line x1="736.7" y1="859.5" x2="736.7" y2="903.2" stroke="#3b3d43" stroke-width="0.5"/>
<line x1="744.0" y1="859.5" x2="744.0" y2="903.2" stroke="#3b3d43" stroke-width="0.5"/>
<line x1="751.4" y1="859.5" x2="751.4" y2="903.2" stroke="#3b3d43" stroke-width="0.5"/>
<line x1="758.7" y1="859.5" x2="758.7" y2="903.2" stroke="#3b3d43" stroke-width="0.5"/>
<line x1="766.0" y1="859.5" x2="766.0" y2="903.2" stroke="#3b3d43" stroke-width="0.5"/>
<line x1="773.4" y1="859.5" x2="773.4" y2="903.2" stroke="#3b3d43" stroke-width="0.5"/>
<line x1="780.7" y1="859.5" x2="780.7" y2="903.2" stroke="#3b3d43" stroke-width="0.5"/>
<line x1="788.0" y1="859.5" x2="788.0" y2="903.2" stroke="#3b3d43" stroke-width="0.5"/>
<line x1="795.3" y1="859.5" x2="795.3" y2="903.2" stroke="#3b3d43" stroke-width="0.5"/>
<line x1="802.7" y1="859.5" x2="802.7" y2="903.2" stroke="#3b3d43" stroke-width="0.5"/>
<line x1="810.0" y1="859.5" x2="810.0" y2="903.2" stroke="#3b3d43" stroke-width="0.5"/>
<line x1="736.7" y1="859.5" x2="810.0" y2="859.5" stroke="#3b3d43" stroke-width="0.5"/>
<line x1="736.7" y1="867.3" x2="810.0" y2="867.3" stroke="#3b3d43" stroke-width="0.5"/>
<line x1="736.7" y1="875.1" x2="810.0" y2="875.1" stroke="#3b3d43" stroke-width="0.5"/>
<line x1="736.7" y1="882.9" x2="810.0" y2="882.9" stroke="#3b3d43" stroke-width="0.5"/>
<line x1="736.7" y1="890.7" x2="810.0" y2="890.7" stroke="#3b3d43" stroke-width="0.5"/>
<line x1="736.7" y1="898.5" x2="810.0" y2="898.5" stroke="#3b3d43" stroke-width="0.5"/>
<path d="M728.9 847.4 V903.2 H821.3" fill="none" stroke="#e0e0e0" stroke-width="0.7"/>
<path d="M727.3 849.4 L728.9 847.4 L730.5 849.4" fill="none" stroke="#e0e0e0" stroke-width="0.7"/>
<path d="M819.3 901.6 L821.3 903.2 L819.3 904.8" fill="none" stroke="#e0e0e0" stroke-width="0.7"/>
<text x="725.8" y="861.2" font-size="3.90" fill="#cfcfd2" text-anchor="end">7,0</text>
<text x="725.8" y="869.0" font-size="3.90" fill="#cfcfd2" text-anchor="end">6,5</text>
<text x="725.8" y="876.8" font-size="3.90" fill="#cfcfd2" text-anchor="end">6,0</text>
<text x="725.8" y="884.5" font-size="3.90" fill="#cfcfd2" text-anchor="end">5,5</text>
<text x="725.8" y="892.3" font-size="3.90" fill="#cfcfd2" text-anchor="end">5,0</text>
<text x="736.7" y="911.3" font-size="3.90" fill="#cfcfd2" text-anchor="middle">1</text>
<text x="751.6" y="911.3" font-size="3.90" fill="#cfcfd2" text-anchor="middle">3</text>
<text x="760.4" y="911.3" font-size="3.90" fill="#cfcfd2" text-anchor="middle">5</text>
<text x="780.7" y="911.3" font-size="3.90" fill="#cfcfd2" text-anchor="middle">10</text>
<text x="801.6" y="911.3" font-size="3.90" fill="#cfcfd2" text-anchor="middle">15</text>
<text x="817.5" y="911.3" font-size="3.90" fill="#cfcfd2">Лет</text>
<text x="817.2" y="893.8" font-size="3.70" fill="#cfcfd2">Время до</text>
<text x="817.2" y="898.6" font-size="3.70" fill="#cfcfd2">погашения</text>
<text x="726.0" y="841.2" font-size="3.70" fill="#cfcfd2">Доходность, %</text>
<text x="817.8" y="842.4" font-size="5.00" fill="#ffffff" font-weight="bold" text-anchor="end">3. Инверсная</text>
<path d="M738.2 862.1 C739.6 863.3 743.8 866.9 746.7 869.4 C749.6 872.0 753.0 875.1 755.6 877.2 C758.1 879.3 759.3 880.7 762.2 882.1 C765.2 883.5 769.3 884.7 773.3 885.7 C777.4 886.6 782.6 887.2 786.7 887.9 C790.7 888.6 794.4 889.4 797.8 889.9 C801.1 890.3 805.2 890.4 806.7 890.6" fill="none" stroke="#e0701c" stroke-width="0.9"/>
<line x1="870.5" y1="859.5" x2="870.5" y2="903.2" stroke="#3b3d43" stroke-width="0.5"/>
<line x1="877.8" y1="859.5" x2="877.8" y2="903.2" stroke="#3b3d43" stroke-width="0.5"/>
<line x1="885.2" y1="859.5" x2="885.2" y2="903.2" stroke="#3b3d43" stroke-width="0.5"/>
<line x1="892.5" y1="859.5" x2="892.5" y2="903.2" stroke="#3b3d43" stroke-width="0.5"/>
<line x1="899.8" y1="859.5" x2="899.8" y2="903.2" stroke="#3b3d43" stroke-width="0.5"/>
<line x1="907.1" y1="859.5" x2="907.1" y2="903.2" stroke="#3b3d43" stroke-width="0.5"/>
<line x1="914.5" y1="859.5" x2="914.5" y2="903.2" stroke="#3b3d43" stroke-width="0.5"/>
<line x1="921.8" y1="859.5" x2="921.8" y2="903.2" stroke="#3b3d43" stroke-width="0.5"/>
<line x1="929.1" y1="859.5" x2="929.1" y2="903.2" stroke="#3b3d43" stroke-width="0.5"/>
<line x1="936.5" y1="859.5" x2="936.5" y2="903.2" stroke="#3b3d43" stroke-width="0.5"/>
<line x1="943.8" y1="859.5" x2="943.8" y2="903.2" stroke="#3b3d43" stroke-width="0.5"/>
<line x1="870.5" y1="859.5" x2="943.8" y2="859.5" stroke="#3b3d43" stroke-width="0.5"/>
<line x1="870.5" y1="867.3" x2="943.8" y2="867.3" stroke="#3b3d43" stroke-width="0.5"/>
<line x1="870.5" y1="875.1" x2="943.8" y2="875.1" stroke="#3b3d43" stroke-width="0.5"/>
<line x1="870.5" y1="882.9" x2="943.8" y2="882.9" stroke="#3b3d43" stroke-width="0.5"/>
<line x1="870.5" y1="890.7" x2="943.8" y2="890.7" stroke="#3b3d43" stroke-width="0.5"/>
<line x1="870.5" y1="898.5" x2="943.8" y2="898.5" stroke="#3b3d43" stroke-width="0.5"/>
<path d="M862.7 847.4 V903.2 H955.1" fill="none" stroke="#e0e0e0" stroke-width="0.7"/>
<path d="M861.1 849.4 L862.7 847.4 L864.3 849.4" fill="none" stroke="#e0e0e0" stroke-width="0.7"/>
<path d="M953.1 901.6 L955.1 903.2 L953.1 904.8" fill="none" stroke="#e0e0e0" stroke-width="0.7"/>
<text x="859.6" y="861.2" font-size="3.90" fill="#cfcfd2" text-anchor="end">7,0</text>
<text x="859.6" y="869.0" font-size="3.90" fill="#cfcfd2" text-anchor="end">6,5</text>
<text x="859.6" y="876.8" font-size="3.90" fill="#cfcfd2" text-anchor="end">6,0</text>
<text x="859.6" y="884.5" font-size="3.90" fill="#cfcfd2" text-anchor="end">5,5</text>
<text x="859.6" y="892.3" font-size="3.90" fill="#cfcfd2" text-anchor="end">5,0</text>
<text x="870.5" y="911.3" font-size="3.90" fill="#cfcfd2" text-anchor="middle">1</text>
<text x="885.4" y="911.3" font-size="3.90" fill="#cfcfd2" text-anchor="middle">3</text>
<text x="894.2" y="911.3" font-size="3.90" fill="#cfcfd2" text-anchor="middle">5</text>
<text x="914.5" y="911.3" font-size="3.90" fill="#cfcfd2" text-anchor="middle">10</text>
<text x="935.4" y="911.3" font-size="3.90" fill="#cfcfd2" text-anchor="middle">15</text>
<text x="951.3" y="911.3" font-size="3.90" fill="#cfcfd2">Лет</text>
<text x="951.0" y="893.8" font-size="3.70" fill="#cfcfd2">Время до</text>
<text x="951.0" y="898.6" font-size="3.70" fill="#cfcfd2">погашения</text>
<text x="859.8" y="841.2" font-size="3.70" fill="#cfcfd2">Доходность, %</text>
<text x="951.6" y="842.4" font-size="5.00" fill="#ffffff" font-weight="bold" text-anchor="end">4. Горбатая</text>
<path d="M869.3 859.4 C869.9 859.1 871.4 857.8 872.4 857.4 C873.5 857.1 874.5 856.9 875.6 857.2 C876.6 857.6 878.0 858.3 878.9 859.4 C879.7 860.6 880.3 862.8 880.7 864.3 C881.0 865.9 880.7 867.4 881.1 868.8 C881.6 870.1 881.7 870.7 883.3 872.3 C885.0 873.9 888.0 876.4 891.1 878.3 C894.3 880.3 898.5 882.3 902.2 883.9 C905.9 885.5 909.6 886.9 913.3 887.9 C917.0 888.9 921.3 889.7 924.4 890.1 C927.6 890.6 930.9 890.5 932.2 890.6" fill="none" stroke="#e0701c" stroke-width="0.9"/>
<g transform="translate(1341.8 735.4) scale(1.000)"><path d="M0.2 15.6 L5.6 0.2 L7.6 0.2 L12.9 15.6 L11.2 15.6 L6.6 2.6 L2.3 15.6Z" fill="#fff"/><path d="M11.2 3.2 C10.6 7 9.2 11.5 7.8 15.2 C9.8 14.4 12 13.2 14.2 12" fill="none" stroke="#f47b20" stroke-width="1.6" stroke-linecap="round"/><path d="M4.4 8.8 L12.6 8.8" stroke="#f47b20" stroke-width="1.5" stroke-linecap="round"/></g>
<text x="1067.3" y="751.2" font-size="10.30" fill="#ffffff" font-weight="bold" textLength="248.3" lengthAdjust="spacingAndGlyphs">Динамика размещений корпоративных облигаций</text>
<line x1="1102.9" y1="780.6" x2="1331.6" y2="780.6" stroke="#3c3e44" stroke-width="0.6"/>
<text x="1099.8" y="781.9" font-size="3.80" fill="#cfcfd2" text-anchor="end">18%</text>
<line x1="1102.9" y1="793.1" x2="1331.6" y2="793.1" stroke="#3c3e44" stroke-width="0.6"/>
<text x="1099.8" y="794.4" font-size="3.80" fill="#cfcfd2" text-anchor="end">16%</text>
<line x1="1102.9" y1="805.7" x2="1331.6" y2="805.7" stroke="#3c3e44" stroke-width="0.6"/>
<text x="1099.8" y="807.0" font-size="3.80" fill="#cfcfd2" text-anchor="end">14%</text>
<line x1="1102.9" y1="818.2" x2="1331.6" y2="818.2" stroke="#3c3e44" stroke-width="0.6"/>
<text x="1099.8" y="819.5" font-size="3.80" fill="#cfcfd2" text-anchor="end">12%</text>
<line x1="1102.9" y1="830.7" x2="1331.6" y2="830.7" stroke="#3c3e44" stroke-width="0.6"/>
<text x="1099.8" y="832.0" font-size="3.80" fill="#cfcfd2" text-anchor="end">10%</text>
<line x1="1102.9" y1="843.3" x2="1331.6" y2="843.3" stroke="#3c3e44" stroke-width="0.6"/>
<text x="1099.8" y="844.6" font-size="3.80" fill="#cfcfd2" text-anchor="end">8%</text>
<line x1="1102.9" y1="855.8" x2="1331.6" y2="855.8" stroke="#3c3e44" stroke-width="0.6"/>
<text x="1099.8" y="857.1" font-size="3.80" fill="#cfcfd2" text-anchor="end">6%</text>
<line x1="1102.9" y1="868.3" x2="1331.6" y2="868.3" stroke="#3c3e44" stroke-width="0.6"/>
<text x="1099.8" y="869.6" font-size="3.80" fill="#cfcfd2" text-anchor="end">4%</text>
<line x1="1102.9" y1="880.9" x2="1331.6" y2="880.9" stroke="#3c3e44" stroke-width="0.6"/>
<text x="1099.8" y="882.2" font-size="3.80" fill="#cfcfd2" text-anchor="end">2%</text>
<line x1="1102.9" y1="893.4" x2="1331.6" y2="893.4" stroke="#3c3e44" stroke-width="0.6"/>
<text x="1099.8" y="894.7" font-size="3.80" fill="#cfcfd2" text-anchor="end">0%</text>
<rect x="1112.9" y="788.3" width="10.0" height="105.1" rx="0" fill="#42454c"/>
<rect x="1125.1" y="800.1" width="10.0" height="93.3" rx="0" fill="#f57d1f"/>
<rect x="1145.8" y="797.9" width="10.0" height="95.5" rx="0" fill="#42454c"/>
<rect x="1158.0" y="812.1" width="10.0" height="81.3" rx="0" fill="#f57d1f"/>
<rect x="1178.9" y="809.0" width="10.0" height="84.4" rx="0" fill="#42454c"/>
<rect x="1191.1" y="817.0" width="10.0" height="76.4" rx="0" fill="#f57d1f"/>
<rect x="1234.9" y="811.0" width="10.0" height="82.4" rx="0" fill="#42454c"/>
<rect x="1247.1" y="795.0" width="10.0" height="98.4" rx="0" fill="#f57d1f"/>
<rect x="1267.8" y="799.2" width="10.0" height="94.2" rx="0" fill="#42454c"/>
<rect x="1280.2" y="809.4" width="10.0" height="84.0" rx="0" fill="#f57d1f"/>
<rect x="1300.9" y="809.2" width="10.0" height="84.2" rx="0" fill="#42454c"/>
<rect x="1313.1" y="809.4" width="10.0" height="84.0" rx="0" fill="#f57d1f"/>
<text x="1122.9" y="900.2" font-size="3.80" fill="#cfcfd2" text-anchor="middle">1-й</text>
<text x="1156.7" y="900.2" font-size="3.80" fill="#cfcfd2" text-anchor="middle">2-й</text>
<text x="1190.7" y="900.2" font-size="3.80" fill="#cfcfd2" text-anchor="middle">3-й</text>
<path d="M1122.9 905 V908.2 H1190.7 V905 M1156.8 908.2 V905" fill="none" stroke="#6a6c70" stroke-width="0.5"/>
<text x="1156.8" y="915.2" font-size="3.80" fill="#cfcfd2" text-anchor="middle">Прогноз ГПБ</text>
<text x="1246.7" y="900.2" font-size="3.80" fill="#cfcfd2" text-anchor="middle">1-й</text>
<text x="1280.0" y="900.2" font-size="3.80" fill="#cfcfd2" text-anchor="middle">2-й</text>
<text x="1314.0" y="900.2" font-size="3.80" fill="#cfcfd2" text-anchor="middle">3-й</text>
<path d="M1246.7 905 V908.2 H1314.0 V905 M1280.3 908.2 V905" fill="none" stroke="#6a6c70" stroke-width="0.5"/>
<text x="1280.3" y="915.2" font-size="3.80" fill="#cfcfd2" text-anchor="middle">Консенсус рынка</text>
<rect x="1173.8" y="927.0" width="3.6" height="3.6" rx="0" fill="#42454c"/>
<text x="1180.2" y="930.2" font-size="3.80" fill="#cfcfd2">Классический выпуск</text>
<rect x="1236.0" y="927.0" width="3.6" height="3.6" rx="0" fill="#f57d1f"/>
<text x="1242.4" y="930.2" font-size="3.80" fill="#cfcfd2">Флоатер</text>
<rect x="1444.0" y="743.9" width="252.0" height="51.1" rx="5" fill="#393c43"/>
<g transform="translate(1455.6 754.6)"><rect x="-1.1" y="-7.0" width="2.2" height="2.4" rx="0.3" fill="#f2f2f2" transform="translate(7.4 7.3) rotate(22.5)"/><rect x="-1.1" y="-7.0" width="2.2" height="2.4" rx="0.3" fill="#f2f2f2" transform="translate(7.4 7.3) rotate(67.5)"/><rect x="-1.1" y="-7.0" width="2.2" height="2.4" rx="0.3" fill="#f2f2f2" transform="translate(7.4 7.3) rotate(112.5)"/><rect x="-1.1" y="-7.0" width="2.2" height="2.4" rx="0.3" fill="#f2f2f2" transform="translate(7.4 7.3) rotate(157.5)"/><rect x="-1.1" y="-7.0" width="2.2" height="2.4" rx="0.3" fill="#f2f2f2" transform="translate(7.4 7.3) rotate(202.5)"/><rect x="-1.1" y="-7.0" width="2.2" height="2.4" rx="0.3" fill="#f2f2f2" transform="translate(7.4 7.3) rotate(247.5)"/><rect x="-1.1" y="-7.0" width="2.2" height="2.4" rx="0.3" fill="#f2f2f2" transform="translate(7.4 7.3) rotate(292.5)"/><rect x="-1.1" y="-7.0" width="2.2" height="2.4" rx="0.3" fill="#f2f2f2" transform="translate(7.4 7.3) rotate(337.5)"/><circle cx="7.4" cy="7.3" r="4.6" fill="none" stroke="#f2f2f2" stroke-width="1.7"/><path d="M28.1 11.6 L25.0 6.6 A4.3 4.3 0 1 1 31.2 6.6 Z" fill="#f47b20"/><circle cx="28.1" cy="3.8" r="1.8" fill="#393c43"/><path d="M28.1 11.6 V15.8" stroke="#25272c" stroke-width="0.6"/><path d="M7.4 21.3 L13.7 14.9 L16.8 17.4 L24.9 9.6" fill="none" stroke="#f2f2f2" stroke-width="1.2" stroke-linejoin="miter"/><rect x="1.0" y="25.2" width="8.4" height="5.4" rx="0.6" fill="#f47b20" stroke="#25272c" stroke-width="0.5"/><rect x="12.3" y="21.3" width="8.6" height="9.3" rx="0.6" fill="#f47b20" stroke="#25272c" stroke-width="0.5"/><rect x="23.4" y="15.8" width="8.7" height="14.8" rx="0.6" fill="#f47b20" stroke="#25272c" stroke-width="0.5"/><ellipse cx="4.4" cy="27.9" rx="0.5" ry="0.95" fill="#25272c"/><ellipse cx="6.0" cy="27.9" rx="0.5" ry="0.95" fill="#25272c"/><ellipse cx="15.6" cy="24.4" rx="0.5" ry="0.95" fill="#25272c"/><ellipse cx="17.4" cy="24.4" rx="0.5" ry="0.95" fill="#25272c"/><ellipse cx="15.6" cy="27.6" rx="0.5" ry="0.95" fill="#25272c"/><ellipse cx="17.4" cy="27.6" rx="0.5" ry="0.95" fill="#25272c"/><ellipse cx="26.9" cy="18.7" rx="0.5" ry="0.95" fill="#25272c"/><ellipse cx="28.7" cy="18.7" rx="0.5" ry="0.95" fill="#25272c"/><ellipse cx="26.9" cy="21.9" rx="0.5" ry="0.95" fill="#25272c"/><ellipse cx="28.7" cy="21.9" rx="0.5" ry="0.95" fill="#25272c"/><ellipse cx="26.9" cy="25.0" rx="0.5" ry="0.95" fill="#25272c"/><ellipse cx="28.7" cy="25.0" rx="0.5" ry="0.95" fill="#25272c"/><ellipse cx="26.9" cy="28.1" rx="0.5" ry="0.95" fill="#25272c"/><ellipse cx="28.7" cy="28.1" rx="0.5" ry="0.95" fill="#25272c"/><circle cx="18.7" cy="2.2" r="0.55" fill="#7fb24a"/><circle cx="3.7" cy="18.7" r="0.55" fill="#d9b23a"/></g>
<text x="1498.9" y="768.1" font-size="9.00" fill="#ffffff" font-weight="bold" textLength="121.7" lengthAdjust="spacingAndGlyphs">Регионы с самым высоким</text>
<text x="1498.9" y="778.1" font-size="9.00" fill="#ffffff" font-weight="bold" textLength="143.3" lengthAdjust="spacingAndGlyphs">ростом в среднем на инвестора</text>
<g transform="translate(1665.0 762.0) scale(1.000)"><path d="M0.2 15.6 L5.6 0.2 L7.6 0.2 L12.9 15.6 L11.2 15.6 L6.6 2.6 L2.3 15.6Z" fill="#fff"/><path d="M11.2 3.2 C10.6 7 9.2 11.5 7.8 15.2 C9.8 14.4 12 13.2 14.2 12" fill="none" stroke="#f47b20" stroke-width="1.6" stroke-linecap="round"/><path d="M4.4 8.8 L12.6 8.8" stroke="#f47b20" stroke-width="1.5" stroke-linecap="round"/></g>
<rect x="1519.3" y="805.0" width="176.7" height="9.3" rx="0" fill="#41444b"/>
<text x="1523.1" y="812.0" font-size="5.00" fill="#ffffff" textLength="12.5" lengthAdjust="spacingAndGlyphs">146%</text>
<text x="1443.8" y="812.0" font-size="5.20" fill="#e2e2e4" textLength="26.2" lengthAdjust="spacingAndGlyphs">Калмыкия</text>
<rect x="1519.3" y="815.3" width="168.5" height="9.3" rx="0" fill="#f57d1f"/>
<text x="1523.1" y="822.3" font-size="5.00" fill="#ffffff" textLength="12.0" lengthAdjust="spacingAndGlyphs">135%</text>
<text x="1443.8" y="822.3" font-size="5.20" fill="#f57d1f" textLength="57.2" lengthAdjust="spacingAndGlyphs">Кабардино-Балкария</text>
<rect x="1519.3" y="825.6" width="119.6" height="9.3" rx="0" fill="#41444b"/>
<text x="1523.1" y="832.6" font-size="5.00" fill="#ffffff" textLength="10.5" lengthAdjust="spacingAndGlyphs">99%</text>
<text x="1443.8" y="832.6" font-size="5.20" fill="#e2e2e4" textLength="33.4" lengthAdjust="spacingAndGlyphs">Севастополь</text>
<rect x="1519.3" y="835.9" width="66.3" height="9.3" rx="0" fill="#41444b"/>
<text x="1523.1" y="842.9" font-size="5.00" fill="#ffffff" textLength="10.0" lengthAdjust="spacingAndGlyphs">55%</text>
<text x="1443.8" y="842.9" font-size="5.20" fill="#e2e2e4" textLength="55.2" lengthAdjust="spacingAndGlyphs">Костромская область</text>
<rect x="1519.3" y="846.2" width="55.1" height="9.3" rx="0" fill="#41444b"/>
<text x="1523.1" y="853.2" font-size="5.00" fill="#ffffff" textLength="10.5" lengthAdjust="spacingAndGlyphs">46%</text>
<text x="1443.8" y="853.2" font-size="5.20" fill="#e2e2e4" textLength="15.4" lengthAdjust="spacingAndGlyphs">Алтай</text>
<rect x="1519.3" y="856.5" width="40.7" height="9.3" rx="0" fill="#41444b"/>
<text x="1523.1" y="863.5" font-size="5.00" fill="#ffffff" textLength="10.5" lengthAdjust="spacingAndGlyphs">34%</text>
<text x="1443.8" y="863.5" font-size="5.20" fill="#e2e2e4" textLength="14.4" lengthAdjust="spacingAndGlyphs">Крым</text>
<rect x="1519.3" y="866.9" width="36.9" height="9.3" rx="0" fill="#41444b"/>
<text x="1523.1" y="873.9" font-size="5.00" fill="#ffffff" textLength="9.5" lengthAdjust="spacingAndGlyphs">31%</text>
<text x="1443.8" y="873.9" font-size="5.20" fill="#e2e2e4" textLength="59.4" lengthAdjust="spacingAndGlyphs">Оренбургская область</text>
<rect x="1519.3" y="877.2" width="34.5" height="9.3" rx="0" fill="#41444b"/>
<text x="1523.1" y="884.2" font-size="5.00" fill="#ffffff" textLength="10.0" lengthAdjust="spacingAndGlyphs">29%</text>
<text x="1443.8" y="884.2" font-size="5.20" fill="#e2e2e4" textLength="19.4" lengthAdjust="spacingAndGlyphs">Москва</text>
<rect x="1519.3" y="887.5" width="31.1" height="9.3" rx="0" fill="#41444b"/>
<text x="1523.1" y="894.5" font-size="5.00" fill="#ffffff" textLength="10.0" lengthAdjust="spacingAndGlyphs">26%</text>
<text x="1443.8" y="894.5" font-size="5.20" fill="#e2e2e4" textLength="45.2" lengthAdjust="spacingAndGlyphs">Северная Осетия</text>
<rect x="1519.3" y="897.8" width="29.8" height="9.3" rx="0" fill="#41444b"/>
<text x="1523.1" y="904.8" font-size="5.00" fill="#ffffff" textLength="10.0" lengthAdjust="spacingAndGlyphs">25%</text>
<text x="1443.8" y="904.8" font-size="5.20" fill="#e2e2e4" textLength="55.2" lengthAdjust="spacingAndGlyphs">Краснодарский край</text>
<text x="1443.8" y="930.0" font-size="4.90" textLength="236.5" lengthAdjust="spacingAndGlyphs"><tspan fill="#ffffff" font-weight="bold">Выделен</tspan><tspan fill="#b0b0b3"> единственный регион, который входит в топ-10 по росту среднедушевых доходов</tspan></text>
</svg>
</body>
</html>
